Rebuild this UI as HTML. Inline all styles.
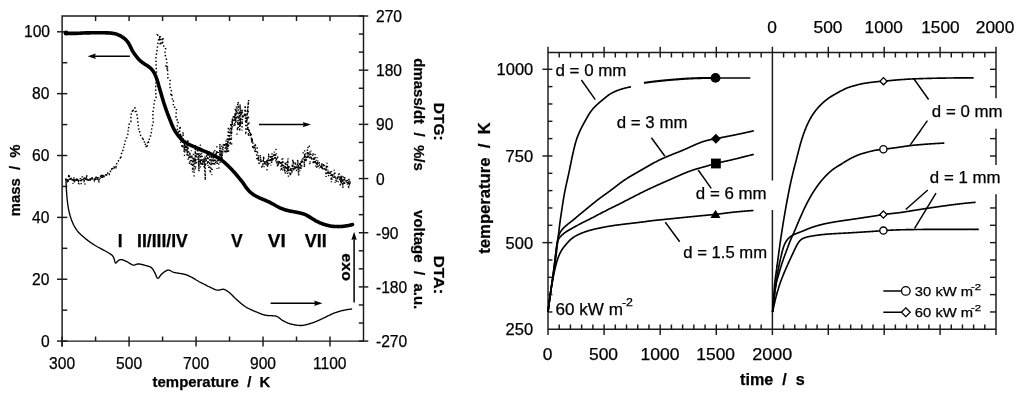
<!DOCTYPE html>
<html><head><meta charset="utf-8"><style>
html,body{margin:0;padding:0;background:#fff;}
svg{display:block;}
text{font-family:"Liberation Sans", Arial, sans-serif;fill:#000;stroke:#000;stroke-width:0.25px;}
</style></head><body>
<svg width="1024" height="397" viewBox="0 0 1024 397">
<rect width="1024" height="397" fill="#fff"/>
<path d="M62.1,16.0 H363.5 V341.1 H62.1 Z" stroke="#1a1a1a" stroke-width="1.45" fill="none"/>
<path d="M62.1,341.1 V346.4" stroke="#1a1a1a" stroke-width="1.45" fill="none"/>
<path d="M57,341.10 H67.3" stroke="#1a1a1a" stroke-width="1.45" fill="none"/>
<path d="M62.1,310.17 H67.3" stroke="#1a1a1a" stroke-width="1.45" fill="none"/>
<path d="M57,279.24 H67.3" stroke="#1a1a1a" stroke-width="1.45" fill="none"/>
<path d="M62.1,248.31 H67.3" stroke="#1a1a1a" stroke-width="1.45" fill="none"/>
<path d="M57,217.38 H67.3" stroke="#1a1a1a" stroke-width="1.45" fill="none"/>
<path d="M62.1,186.45 H67.3" stroke="#1a1a1a" stroke-width="1.45" fill="none"/>
<path d="M57,155.52 H67.3" stroke="#1a1a1a" stroke-width="1.45" fill="none"/>
<path d="M62.1,124.59 H67.3" stroke="#1a1a1a" stroke-width="1.45" fill="none"/>
<path d="M57,93.66 H67.3" stroke="#1a1a1a" stroke-width="1.45" fill="none"/>
<path d="M62.1,62.73 H67.3" stroke="#1a1a1a" stroke-width="1.45" fill="none"/>
<path d="M57,31.80 H67.3" stroke="#1a1a1a" stroke-width="1.45" fill="none"/>
<path d="M358.8,341.10 H368.3" stroke="#1a1a1a" stroke-width="1.45" fill="none"/>
<path d="M358.8,323.04 H363.5" stroke="#1a1a1a" stroke-width="1.45" fill="none"/>
<path d="M358.8,304.98 H363.5" stroke="#1a1a1a" stroke-width="1.45" fill="none"/>
<path d="M358.8,286.92 H368.3" stroke="#1a1a1a" stroke-width="1.45" fill="none"/>
<path d="M358.8,268.86 H363.5" stroke="#1a1a1a" stroke-width="1.45" fill="none"/>
<path d="M358.8,250.79 H363.5" stroke="#1a1a1a" stroke-width="1.45" fill="none"/>
<path d="M358.8,232.73 H368.3" stroke="#1a1a1a" stroke-width="1.45" fill="none"/>
<path d="M358.8,214.67 H363.5" stroke="#1a1a1a" stroke-width="1.45" fill="none"/>
<path d="M358.8,196.61 H363.5" stroke="#1a1a1a" stroke-width="1.45" fill="none"/>
<path d="M358.8,178.55 H368.3" stroke="#1a1a1a" stroke-width="1.45" fill="none"/>
<path d="M358.8,160.49 H363.5" stroke="#1a1a1a" stroke-width="1.45" fill="none"/>
<path d="M358.8,142.43 H363.5" stroke="#1a1a1a" stroke-width="1.45" fill="none"/>
<path d="M358.8,124.37 H368.3" stroke="#1a1a1a" stroke-width="1.45" fill="none"/>
<path d="M358.8,106.31 H363.5" stroke="#1a1a1a" stroke-width="1.45" fill="none"/>
<path d="M358.8,88.24 H363.5" stroke="#1a1a1a" stroke-width="1.45" fill="none"/>
<path d="M358.8,70.18 H368.3" stroke="#1a1a1a" stroke-width="1.45" fill="none"/>
<path d="M358.8,52.12 H363.5" stroke="#1a1a1a" stroke-width="1.45" fill="none"/>
<path d="M358.8,34.06 H363.5" stroke="#1a1a1a" stroke-width="1.45" fill="none"/>
<path d="M358.8,16.00 H368.3" stroke="#1a1a1a" stroke-width="1.45" fill="none"/>
<path d="M95.59,16.0 V21" stroke="#1a1a1a" stroke-width="1.45" fill="none"/>
<path d="M129.08,16.0 V21" stroke="#1a1a1a" stroke-width="1.45" fill="none"/>
<path d="M162.57,16.0 V21" stroke="#1a1a1a" stroke-width="1.45" fill="none"/>
<path d="M196.06,16.0 V21" stroke="#1a1a1a" stroke-width="1.45" fill="none"/>
<path d="M229.54,16.0 V21" stroke="#1a1a1a" stroke-width="1.45" fill="none"/>
<path d="M263.03,16.0 V21" stroke="#1a1a1a" stroke-width="1.45" fill="none"/>
<path d="M296.52,16.0 V21" stroke="#1a1a1a" stroke-width="1.45" fill="none"/>
<path d="M330.01,16.0 V21" stroke="#1a1a1a" stroke-width="1.45" fill="none"/>
<path d="M62.10,336.5 V346.4" stroke="#1a1a1a" stroke-width="1.45" fill="none"/>
<path d="M95.59,336.5 V341.1" stroke="#1a1a1a" stroke-width="1.45" fill="none"/>
<path d="M129.08,336.5 V346.4" stroke="#1a1a1a" stroke-width="1.45" fill="none"/>
<path d="M162.57,336.5 V341.1" stroke="#1a1a1a" stroke-width="1.45" fill="none"/>
<path d="M196.06,336.5 V346.4" stroke="#1a1a1a" stroke-width="1.45" fill="none"/>
<path d="M229.54,336.5 V341.1" stroke="#1a1a1a" stroke-width="1.45" fill="none"/>
<path d="M263.03,336.5 V346.4" stroke="#1a1a1a" stroke-width="1.45" fill="none"/>
<path d="M296.52,336.5 V341.1" stroke="#1a1a1a" stroke-width="1.45" fill="none"/>
<path d="M330.01,336.5 V346.4" stroke="#1a1a1a" stroke-width="1.45" fill="none"/>
<path d="M129.8,56.3 H93.6" stroke="#000" stroke-width="1.5" fill="none"/>
<path d="M87.6,56.3 L95.89999999999999,53.599999999999994 L94.69999999999999,56.3 L95.89999999999999,59.0 Z" fill="#000"/>
<path d="M259.0,124.6 H305.0" stroke="#000" stroke-width="1.5" fill="none"/>
<path d="M311.0,124.6 L302.7,121.89999999999999 L303.9,124.6 L302.7,127.3 Z" fill="#000"/>
<path d="M270.6,303.3 H316.4" stroke="#000" stroke-width="1.5" fill="none"/>
<path d="M322.4,303.3 L314.09999999999997,300.6 L315.29999999999995,303.3 L314.09999999999997,306.0 Z" fill="#000"/>
<path d="M354.1,302.4 V237.8" stroke="#000" stroke-width="1.5" fill="none"/>
<path d="M354.1,231.8 L351.40000000000003,240.10000000000002 L354.1,238.90000000000003 L356.8,240.10000000000002 Z" fill="#000"/>
<path d="M65.50,33.40 L66.06,33.40 L66.57,33.40 L67.06,33.40 L67.54,33.40 L68.02,33.40 L68.51,33.40 L69.01,33.40 L69.50,33.40 L70.00,33.40 L70.50,33.40 L71.00,33.40 L71.50,33.40 L72.00,33.40 L72.50,33.40 L73.00,33.40 L73.50,33.40 L74.00,33.40 L74.50,33.39 L75.00,33.39 L75.50,33.38 L76.00,33.37 L76.50,33.36 L77.00,33.34 L77.50,33.32 L78.00,33.30 L78.50,33.27 L79.00,33.25 L79.50,33.22 L80.00,33.19 L80.49,33.16 L80.99,33.13 L81.49,33.10 L81.99,33.07 L82.49,33.04 L82.99,33.01 L83.49,32.98 L83.99,32.96 L84.49,32.94 L84.99,32.92 L85.49,32.90 L85.99,32.89 L86.49,32.88 L86.99,32.87 L87.49,32.86 L87.99,32.85 L88.49,32.85 L88.99,32.84 L89.49,32.83 L89.99,32.83 L90.49,32.82 L90.99,32.82 L91.49,32.82 L91.99,32.81 L92.49,32.81 L92.99,32.81 L93.49,32.80 L93.99,32.80 L94.49,32.80 L94.99,32.80 L95.49,32.80 L95.99,32.80 L96.49,32.80 L96.99,32.80 L97.49,32.80 L97.99,32.80 L98.49,32.80 L98.99,32.80 L99.49,32.80 L99.99,32.80 L100.49,32.80 L100.99,32.80 L101.49,32.80 L101.99,32.80 L102.49,32.80 L102.99,32.80 L103.49,32.80 L103.99,32.80 L104.49,32.81 L104.99,32.81 L105.49,32.82 L105.99,32.83 L106.49,32.84 L106.99,32.86 L107.49,32.87 L107.99,32.90 L108.49,32.92 L108.98,32.95 L109.48,32.98 L109.98,33.02 L110.48,33.06 L110.98,33.11 L111.48,33.16 L111.98,33.22 L112.47,33.29 L112.97,33.36 L113.46,33.44 L113.95,33.53 L114.44,33.63 L114.92,33.74 L115.41,33.86 L115.88,33.99 L116.36,34.14 L116.83,34.30 L117.31,34.47 L117.77,34.65 L118.24,34.84 L118.70,35.05 L119.15,35.26 L119.60,35.48 L120.05,35.70 L120.49,35.94 L120.93,36.18 L121.36,36.42 L121.79,36.68 L122.22,36.95 L122.64,37.22 L123.05,37.50 L123.46,37.80 L123.86,38.10 L124.26,38.41 L124.64,38.72 L125.02,39.05 L125.39,39.38 L125.75,39.73 L126.10,40.08 L126.44,40.44 L126.77,40.82 L127.09,41.20 L127.40,41.59 L127.70,41.99 L127.99,42.40 L128.27,42.81 L128.54,43.23 L128.80,43.65 L129.05,44.09 L129.30,44.52 L129.54,44.96 L129.77,45.41 L129.99,45.85 L130.22,46.30 L130.43,46.76 L130.64,47.21 L130.86,47.66 L131.07,48.12 L131.28,48.57 L131.50,49.02 L131.72,49.46 L131.95,49.91 L132.19,50.34 L132.43,50.78 L132.69,51.21 L132.95,51.63 L133.21,52.05 L133.49,52.47 L133.77,52.89 L134.05,53.30 L134.34,53.71 L134.63,54.12 L134.93,54.52 L135.22,54.93 L135.52,55.33 L135.83,55.73 L136.13,56.12 L136.44,56.52 L136.75,56.91 L137.06,57.31 L137.38,57.69 L137.70,58.08 L138.03,58.46 L138.36,58.84 L138.69,59.21 L139.03,59.57 L139.38,59.93 L139.73,60.28 L140.10,60.62 L140.46,60.95 L140.84,61.28 L141.23,61.59 L141.62,61.90 L142.01,62.20 L142.42,62.50 L142.82,62.79 L143.23,63.08 L143.65,63.37 L144.06,63.65 L144.48,63.92 L144.90,64.19 L145.32,64.46 L145.75,64.73 L146.17,65.00 L146.59,65.27 L147.01,65.54 L147.43,65.82 L147.84,66.10 L148.25,66.39 L148.66,66.68 L149.06,66.98 L149.46,67.29 L149.85,67.61 L150.23,67.93 L150.60,68.27 L150.97,68.61 L151.32,68.95 L151.67,69.31 L151.99,69.68 L152.31,70.06 L152.62,70.44 L152.91,70.84 L153.19,71.25 L153.47,71.67 L153.73,72.09 L153.99,72.53 L154.23,72.97 L154.47,73.41 L154.70,73.85 L154.93,74.30 L155.14,74.76 L155.35,75.21 L155.54,75.67 L155.74,76.13 L155.92,76.59 L156.10,77.06 L156.28,77.53 L156.45,78.00 L156.61,78.47 L156.77,78.95 L156.93,79.42 L157.09,79.90 L157.24,80.38 L157.39,80.85 L157.54,81.33 L157.69,81.81 L157.83,82.29 L157.97,82.77 L158.11,83.25 L158.24,83.73 L158.38,84.21 L158.51,84.69 L158.65,85.17 L158.78,85.66 L158.92,86.14 L159.05,86.62 L159.19,87.10 L159.33,87.58 L159.47,88.06 L159.61,88.54 L159.75,89.02 L159.89,89.50 L160.03,89.98 L160.17,90.46 L160.31,90.94 L160.45,91.42 L160.59,91.90 L160.73,92.38 L160.87,92.86 L161.01,93.34 L161.15,93.82 L161.29,94.30 L161.43,94.78 L161.57,95.26 L161.71,95.74 L161.85,96.22 L161.99,96.70 L162.13,97.18 L162.27,97.66 L162.41,98.14 L162.55,98.62 L162.69,99.10 L162.83,99.58 L162.97,100.06 L163.12,100.54 L163.27,101.02 L163.42,101.49 L163.57,101.97 L163.72,102.45 L163.87,102.92 L164.02,103.40 L164.18,103.87 L164.33,104.35 L164.49,104.82 L164.65,105.30 L164.81,105.77 L164.97,106.25 L165.13,106.72 L165.29,107.19 L165.45,107.67 L165.62,108.14 L165.78,108.61 L165.95,109.08 L166.11,109.55 L166.28,110.03 L166.45,110.50 L166.62,110.97 L166.79,111.44 L166.96,111.91 L167.13,112.38 L167.30,112.85 L167.48,113.31 L167.65,113.78 L167.83,114.25 L168.00,114.72 L168.18,115.19 L168.36,115.65 L168.54,116.12 L168.72,116.59 L168.90,117.05 L169.08,117.52 L169.26,117.98 L169.45,118.45 L169.63,118.92 L169.81,119.38 L170.00,119.85 L170.18,120.31 L170.36,120.78 L170.55,121.25 L170.73,121.71 L170.91,122.18 L171.10,122.65 L171.28,123.12 L171.46,123.58 L171.65,124.05 L171.84,124.51 L172.03,124.98 L172.22,125.44 L172.42,125.90 L172.62,126.36 L172.82,126.81 L173.03,127.27 L173.24,127.72 L173.46,128.16 L173.68,128.60 L173.91,129.05 L174.15,129.48 L174.39,129.92 L174.63,130.35 L174.89,130.78 L175.14,131.21 L175.41,131.64 L175.68,132.06 L175.95,132.49 L176.23,132.90 L176.52,133.32 L176.81,133.73 L177.10,134.14 L177.40,134.54 L177.70,134.94 L178.00,135.34 L178.31,135.73 L178.62,136.12 L178.94,136.51 L179.26,136.89 L179.59,137.26 L179.92,137.64 L180.26,138.01 L180.60,138.38 L180.95,138.74 L181.31,139.09 L181.67,139.45 L182.03,139.79 L182.40,140.13 L182.78,140.46 L183.16,140.78 L183.54,141.09 L183.94,141.39 L184.33,141.69 L184.74,141.98 L185.15,142.26 L185.56,142.53 L185.99,142.80 L186.41,143.06 L186.84,143.31 L187.28,143.56 L187.72,143.81 L188.16,144.04 L188.61,144.28 L189.05,144.51 L189.50,144.73 L189.95,144.95 L190.40,145.16 L190.86,145.37 L191.32,145.57 L191.77,145.76 L192.24,145.96 L192.70,146.15 L193.16,146.34 L193.63,146.52 L194.09,146.71 L194.56,146.90 L195.02,147.08 L195.48,147.28 L195.94,147.47 L196.40,147.67 L196.86,147.87 L197.32,148.07 L197.77,148.28 L198.23,148.49 L198.68,148.70 L199.14,148.91 L199.59,149.12 L200.04,149.33 L200.50,149.54 L200.95,149.75 L201.41,149.96 L201.86,150.16 L202.32,150.36 L202.78,150.55 L203.24,150.75 L203.70,150.94 L204.17,151.12 L204.63,151.31 L205.10,151.49 L205.57,151.67 L206.03,151.85 L206.50,152.03 L206.97,152.21 L207.43,152.40 L207.89,152.59 L208.35,152.78 L208.81,152.97 L209.27,153.17 L209.73,153.38 L210.18,153.59 L210.63,153.80 L211.08,154.02 L211.53,154.24 L211.98,154.46 L212.42,154.69 L212.87,154.92 L213.31,155.15 L213.76,155.38 L214.20,155.61 L214.64,155.84 L215.09,156.08 L215.53,156.31 L215.97,156.55 L216.41,156.79 L216.84,157.03 L217.28,157.28 L217.71,157.54 L218.13,157.79 L218.56,158.06 L218.98,158.33 L219.40,158.60 L219.81,158.88 L220.22,159.16 L220.63,159.45 L221.04,159.74 L221.44,160.04 L221.84,160.34 L222.24,160.65 L222.63,160.95 L223.02,161.27 L223.40,161.58 L223.79,161.91 L224.17,162.23 L224.54,162.56 L224.92,162.89 L225.29,163.23 L225.66,163.56 L226.03,163.90 L226.39,164.24 L226.76,164.58 L227.12,164.93 L227.48,165.27 L227.84,165.62 L228.20,165.97 L228.56,166.32 L228.92,166.67 L229.27,167.02 L229.62,167.38 L229.97,167.73 L230.32,168.09 L230.67,168.45 L231.02,168.81 L231.37,169.17 L231.71,169.53 L232.06,169.89 L232.40,170.26 L232.74,170.62 L233.08,170.99 L233.43,171.35 L233.76,171.72 L234.10,172.09 L234.44,172.46 L234.77,172.83 L235.10,173.21 L235.43,173.58 L235.76,173.96 L236.08,174.34 L236.41,174.72 L236.73,175.11 L237.04,175.49 L237.36,175.88 L237.68,176.27 L237.99,176.65 L238.31,177.04 L238.62,177.43 L238.94,177.82 L239.26,178.21 L239.57,178.59 L239.89,178.98 L240.21,179.36 L240.54,179.74 L240.86,180.13 L241.17,180.51 L241.49,180.90 L241.80,181.29 L242.11,181.68 L242.41,182.08 L242.71,182.48 L243.00,182.89 L243.29,183.30 L243.58,183.71 L243.86,184.12 L244.13,184.54 L244.41,184.96 L244.69,185.38 L244.96,185.79 L245.24,186.21 L245.53,186.62 L245.82,187.03 L246.11,187.43 L246.41,187.83 L246.71,188.23 L247.02,188.62 L247.34,189.01 L247.66,189.39 L247.99,189.77 L248.32,190.14 L248.66,190.51 L249.00,190.88 L249.35,191.24 L249.71,191.59 L250.07,191.93 L250.43,192.27 L250.81,192.60 L251.19,192.92 L251.57,193.24 L251.96,193.54 L252.36,193.84 L252.77,194.13 L253.18,194.41 L253.60,194.69 L254.02,194.96 L254.44,195.23 L254.87,195.49 L255.30,195.74 L255.74,195.99 L256.17,196.24 L256.61,196.48 L257.05,196.71 L257.50,196.94 L257.95,197.16 L258.39,197.38 L258.85,197.60 L259.30,197.81 L259.75,198.02 L260.21,198.23 L260.67,198.43 L261.13,198.62 L261.59,198.82 L262.05,199.01 L262.51,199.20 L262.98,199.39 L263.44,199.57 L263.90,199.76 L264.37,199.95 L264.83,200.14 L265.29,200.34 L265.75,200.53 L266.21,200.73 L266.67,200.93 L267.13,201.13 L267.58,201.33 L268.04,201.54 L268.49,201.75 L268.94,201.96 L269.39,202.18 L269.84,202.40 L270.29,202.63 L270.73,202.85 L271.18,203.08 L271.62,203.31 L272.06,203.55 L272.51,203.78 L272.94,204.02 L273.38,204.27 L273.82,204.52 L274.25,204.77 L274.69,205.02 L275.12,205.27 L275.56,205.52 L275.99,205.78 L276.43,206.03 L276.86,206.28 L277.30,206.52 L277.74,206.76 L278.18,206.99 L278.62,207.22 L279.06,207.44 L279.51,207.65 L279.96,207.86 L280.42,208.06 L280.88,208.25 L281.34,208.44 L281.80,208.62 L282.27,208.80 L282.74,208.98 L283.21,209.15 L283.68,209.31 L284.16,209.47 L284.63,209.63 L285.11,209.79 L285.59,209.93 L286.07,210.08 L286.55,210.22 L287.03,210.35 L287.52,210.48 L288.00,210.60 L288.49,210.72 L288.97,210.83 L289.46,210.93 L289.95,211.03 L290.44,211.13 L290.93,211.23 L291.42,211.32 L291.91,211.40 L292.40,211.49 L292.90,211.58 L293.39,211.66 L293.88,211.75 L294.38,211.84 L294.87,211.93 L295.36,212.03 L295.85,212.12 L296.35,212.22 L296.84,212.32 L297.33,212.42 L297.82,212.52 L298.31,212.63 L298.80,212.73 L299.30,212.84 L299.79,212.95 L300.28,213.07 L300.77,213.18 L301.25,213.30 L301.74,213.43 L302.22,213.56 L302.69,213.70 L303.17,213.84 L303.64,213.99 L304.10,214.15 L304.57,214.33 L305.02,214.51 L305.48,214.71 L305.93,214.91 L306.38,215.13 L306.82,215.36 L307.26,215.60 L307.70,215.85 L308.13,216.10 L308.57,216.35 L309.00,216.61 L309.43,216.87 L309.86,217.13 L310.29,217.39 L310.72,217.66 L311.14,217.93 L311.56,218.19 L311.98,218.47 L312.40,218.74 L312.82,219.01 L313.24,219.28 L313.67,219.55 L314.09,219.81 L314.52,220.07 L314.95,220.32 L315.38,220.57 L315.82,220.81 L316.26,221.05 L316.70,221.29 L317.14,221.52 L317.59,221.74 L318.04,221.96 L318.49,222.18 L318.94,222.39 L319.40,222.60 L319.86,222.80 L320.32,222.99 L320.78,223.18 L321.24,223.37 L321.71,223.54 L322.18,223.72 L322.65,223.89 L323.12,224.05 L323.59,224.21 L324.07,224.37 L324.55,224.52 L325.03,224.66 L325.51,224.80 L325.99,224.94 L326.47,225.07 L326.96,225.20 L327.44,225.32 L327.93,225.44 L328.41,225.56 L328.90,225.68 L329.39,225.79 L329.88,225.89 L330.37,225.99 L330.86,226.08 L331.36,226.16 L331.85,226.23 L332.35,226.29 L332.84,226.35 L333.34,226.39 L333.83,226.42 L334.33,226.45 L334.83,226.48 L335.33,226.50 L335.83,226.52 L336.33,226.54 L336.83,226.55 L337.33,226.56 L337.83,226.57 L338.33,226.58 L338.83,226.58 L339.33,226.57 L339.83,226.56 L340.33,226.54 L340.83,226.52 L341.33,226.48 L341.83,226.44 L342.33,226.40 L342.82,226.35 L343.32,226.29 L343.82,226.24 L344.31,226.18 L344.81,226.11 L345.30,226.05 L345.80,225.98 L346.29,225.90 L346.78,225.82 L347.28,225.74 L347.77,225.65 L348.26,225.56 L348.75,225.46 L349.23,225.36 L349.71,225.26 L350.19,225.16 L350.66,225.05 L351.12,224.95 L351.60,224.83 L352.10,224.70 L352.50,224.60" stroke="#000" stroke-width="3.6" fill="none" stroke-linejoin="round" stroke-linecap="round"/>
<circle cx="66" cy="33" r="2.4" fill="#000"/>
<path d="M66.00,178.50 L66.01,179.04 L66.02,179.52 L66.03,180.01 L66.04,180.50 L66.05,181.00 L66.06,181.50 L66.08,182.00 L66.09,182.50 L66.11,183.00 L66.12,183.50 L66.14,184.00 L66.16,184.50 L66.18,185.00 L66.20,185.50 L66.22,186.00 L66.25,186.50 L66.27,187.00 L66.29,187.50 L66.32,188.00 L66.35,188.50 L66.37,188.99 L66.40,189.49 L66.43,189.99 L66.46,190.49 L66.49,190.99 L66.53,191.49 L66.56,191.99 L66.59,192.49 L66.63,192.99 L66.66,193.49 L66.70,193.99 L66.74,194.48 L66.77,194.98 L66.81,195.48 L66.85,195.98 L66.89,196.48 L66.93,196.97 L66.98,197.47 L67.02,197.97 L67.07,198.47 L67.12,198.97 L67.17,199.46 L67.22,199.96 L67.28,200.46 L67.34,200.96 L67.39,201.46 L67.46,201.95 L67.52,202.45 L67.58,202.95 L67.65,203.44 L67.72,203.94 L67.79,204.43 L67.86,204.93 L67.94,205.42 L68.01,205.92 L68.09,206.41 L68.17,206.90 L68.25,207.39 L68.34,207.88 L68.42,208.38 L68.51,208.87 L68.61,209.36 L68.70,209.85 L68.80,210.34 L68.91,210.83 L69.02,211.32 L69.13,211.82 L69.24,212.31 L69.36,212.79 L69.48,213.28 L69.61,213.77 L69.74,214.26 L69.87,214.74 L70.00,215.23 L70.14,215.71 L70.28,216.19 L70.42,216.66 L70.57,217.14 L70.72,217.61 L70.87,218.09 L71.02,218.56 L71.18,219.02 L71.35,219.49 L71.52,219.96 L71.69,220.43 L71.87,220.90 L72.06,221.37 L72.25,221.83 L72.45,222.30 L72.65,222.77 L72.86,223.23 L73.07,223.69 L73.29,224.15 L73.52,224.61 L73.74,225.07 L73.98,225.52 L74.21,225.97 L74.45,226.41 L74.70,226.85 L74.95,227.29 L75.20,227.71 L75.46,228.14 L75.72,228.56 L75.98,228.97 L76.25,229.38 L76.53,229.78 L76.81,230.17 L77.10,230.56 L77.39,230.94 L77.70,231.32 L78.02,231.70 L78.35,232.07 L78.68,232.44 L79.02,232.81 L79.37,233.17 L79.73,233.53 L80.09,233.88 L80.46,234.23 L80.83,234.58 L81.20,234.93 L81.58,235.27 L81.96,235.61 L82.34,235.94 L82.73,236.28 L83.11,236.61 L83.50,236.94 L83.88,237.26 L84.27,237.58 L84.65,237.91 L85.03,238.22 L85.42,238.54 L85.80,238.86 L86.19,239.17 L86.58,239.48 L86.97,239.79 L87.36,240.09 L87.76,240.40 L88.16,240.70 L88.56,241.00 L88.96,241.30 L89.37,241.60 L89.78,241.89 L90.19,242.18 L90.60,242.47 L91.01,242.76 L91.42,243.04 L91.84,243.32 L92.25,243.61 L92.67,243.88 L93.09,244.16 L93.51,244.43 L93.93,244.70 L94.35,244.97 L94.78,245.24 L95.20,245.50 L95.63,245.77 L96.05,246.02 L96.48,246.28 L96.91,246.53 L97.35,246.77 L97.79,247.02 L98.23,247.25 L98.67,247.49 L99.11,247.73 L99.55,247.96 L99.99,248.20 L100.44,248.43 L100.88,248.66 L101.32,248.89 L101.77,249.12 L102.21,249.35 L102.66,249.58 L103.10,249.81 L103.54,250.04 L103.98,250.28 L104.42,250.52 L104.86,250.76 L105.30,251.00 L105.74,251.24 L106.17,251.49 L106.61,251.74 L107.04,251.99 L107.47,252.24 L107.90,252.49 L108.33,252.75 L108.76,253.01 L109.18,253.28 L109.61,253.55 L110.03,253.82 L110.46,254.09 L110.89,254.37 L111.31,254.65 L111.72,254.95 L112.09,255.27 L112.43,255.61 L112.73,255.97 L113.00,256.37 L113.24,256.80 L113.46,257.25 L113.67,257.71 L113.87,258.19 L114.06,258.68 L114.24,259.19 L114.41,259.73 L114.57,260.30 L114.72,260.88 L114.87,261.46 L115.02,261.99 L115.19,262.45 L115.36,262.80 L115.56,263.01 L115.79,263.06 L116.05,262.94 L116.34,262.68 L116.67,262.32 L117.02,261.90 L117.39,261.48 L117.77,261.09 L118.18,260.74 L118.60,260.44 L119.04,260.17 L119.49,259.94 L119.96,259.76 L120.43,259.64 L120.89,259.59 L121.36,259.60 L121.84,259.66 L122.31,259.77 L122.79,259.90 L123.26,260.07 L123.74,260.25 L124.22,260.45 L124.70,260.65 L125.17,260.86 L125.64,261.07 L126.11,261.28 L126.57,261.49 L127.03,261.71 L127.48,261.96 L127.93,262.21 L128.38,262.49 L128.82,262.77 L129.26,263.07 L129.71,263.36 L130.15,263.65 L130.59,263.92 L131.03,264.18 L131.47,264.43 L131.92,264.64 L132.36,264.82 L132.81,264.96 L133.27,265.06 L133.72,265.11 L134.18,265.09 L134.65,265.01 L135.11,264.86 L135.59,264.68 L136.06,264.47 L136.53,264.28 L137.01,264.12 L137.49,264.01 L137.97,263.96 L138.45,263.95 L138.94,263.98 L139.42,264.03 L139.91,264.09 L140.40,264.17 L140.89,264.27 L141.39,264.37 L141.88,264.49 L142.37,264.61 L142.86,264.74 L143.36,264.87 L143.85,265.01 L144.34,265.15 L144.83,265.29 L145.31,265.43 L145.80,265.57 L146.29,265.71 L146.78,265.84 L147.27,265.98 L147.77,266.12 L148.27,266.26 L148.77,266.41 L149.26,266.56 L149.73,266.73 L150.17,266.92 L150.59,267.12 L150.98,267.35 L151.34,267.62 L151.69,267.92 L152.01,268.25 L152.32,268.62 L152.62,269.02 L152.90,269.45 L153.18,269.89 L153.45,270.35 L153.72,270.81 L153.98,271.27 L154.24,271.73 L154.50,272.19 L154.75,272.65 L155.01,273.13 L155.25,273.63 L155.49,274.17 L155.72,274.72 L155.95,275.29 L156.18,275.85 L156.41,276.38 L156.63,276.88 L156.87,277.32 L157.11,277.70 L157.35,277.98 L157.61,278.17 L157.88,278.24 L158.16,278.20 L158.45,278.04 L158.74,277.78 L159.05,277.44 L159.37,277.04 L159.69,276.59 L160.02,276.11 L160.37,275.63 L160.71,275.16 L161.07,274.72 L161.43,274.32 L161.80,273.95 L162.18,273.61 L162.58,273.28 L162.98,272.94 L163.39,272.61 L163.82,272.28 L164.25,271.95 L164.68,271.64 L165.13,271.34 L165.57,271.06 L166.02,270.81 L166.48,270.59 L166.93,270.40 L167.38,270.25 L167.83,270.14 L168.28,270.09 L168.73,270.10 L169.17,270.17 L169.62,270.31 L170.06,270.51 L170.51,270.74 L170.96,271.01 L171.41,271.27 L171.87,271.53 L172.33,271.77 L172.79,271.97 L173.26,272.14 L173.73,272.29 L174.21,272.42 L174.69,272.54 L175.17,272.64 L175.66,272.75 L176.15,272.84 L176.64,272.93 L177.14,273.02 L177.63,273.10 L178.13,273.19 L178.63,273.26 L179.13,273.34 L179.63,273.42 L180.14,273.50 L180.64,273.58 L181.13,273.66 L181.63,273.74 L182.13,273.83 L182.62,273.92 L183.11,274.01 L183.60,274.11 L184.09,274.22 L184.57,274.34 L185.05,274.46 L185.52,274.59 L185.99,274.74 L186.46,274.90 L186.93,275.07 L187.39,275.25 L187.85,275.45 L188.31,275.65 L188.76,275.86 L189.22,276.08 L189.67,276.30 L190.12,276.53 L190.57,276.76 L191.02,276.99 L191.46,277.22 L191.90,277.45 L192.35,277.69 L192.78,277.93 L193.22,278.17 L193.65,278.42 L194.09,278.67 L194.51,278.93 L194.94,279.19 L195.37,279.45 L195.79,279.72 L196.22,279.98 L196.65,280.25 L197.07,280.51 L197.50,280.77 L197.93,281.03 L198.36,281.28 L198.79,281.53 L199.23,281.78 L199.67,282.01 L200.11,282.24 L200.56,282.47 L201.01,282.68 L201.46,282.90 L201.91,283.11 L202.36,283.33 L202.81,283.56 L203.26,283.78 L203.70,284.01 L204.15,284.24 L204.59,284.47 L205.03,284.70 L205.48,284.93 L205.92,285.17 L206.37,285.40 L206.81,285.63 L207.26,285.85 L207.70,286.08 L208.15,286.30 L208.60,286.51 L209.05,286.73 L209.51,286.93 L209.96,287.14 L210.42,287.35 L210.88,287.56 L211.34,287.78 L211.80,288.00 L212.26,288.23 L212.73,288.46 L213.19,288.69 L213.66,288.91 L214.13,289.12 L214.60,289.32 L215.07,289.51 L215.54,289.68 L216.02,289.82 L216.49,289.95 L216.97,290.04 L217.44,290.11 L217.92,290.14 L218.41,290.14 L218.90,290.10 L219.39,290.02 L219.88,289.91 L220.38,289.79 L220.87,289.66 L221.37,289.53 L221.86,289.42 L222.34,289.33 L222.82,289.28 L223.30,289.28 L223.77,289.33 L224.23,289.43 L224.69,289.58 L225.15,289.78 L225.61,290.02 L226.05,290.28 L226.50,290.56 L226.93,290.85 L227.36,291.15 L227.78,291.44 L228.20,291.73 L228.60,292.02 L229.00,292.31 L229.38,292.61 L229.77,292.92 L230.14,293.24 L230.51,293.57 L230.88,293.91 L231.24,294.25 L231.60,294.60 L231.95,294.96 L232.31,295.32 L232.66,295.69 L233.01,296.05 L233.36,296.42 L233.71,296.78 L234.07,297.15 L234.42,297.51 L234.78,297.87 L235.14,298.22 L235.50,298.57 L235.87,298.91 L236.24,299.24 L236.62,299.57 L237.00,299.90 L237.37,300.23 L237.75,300.57 L238.13,300.90 L238.51,301.23 L238.89,301.56 L239.27,301.89 L239.65,302.22 L240.04,302.55 L240.42,302.88 L240.81,303.20 L241.19,303.53 L241.58,303.85 L241.97,304.16 L242.37,304.48 L242.76,304.78 L243.16,305.09 L243.56,305.39 L243.96,305.68 L244.37,305.97 L244.77,306.25 L245.18,306.53 L245.60,306.79 L246.01,307.06 L246.44,307.31 L246.86,307.56 L247.29,307.80 L247.72,308.04 L248.16,308.28 L248.60,308.51 L249.04,308.74 L249.49,308.96 L249.94,309.18 L250.39,309.40 L250.85,309.61 L251.30,309.82 L251.76,310.03 L252.22,310.23 L252.69,310.43 L253.15,310.63 L253.61,310.83 L254.08,311.02 L254.54,311.21 L255.01,311.40 L255.47,311.59 L255.94,311.78 L256.40,311.96 L256.87,312.15 L257.33,312.34 L257.80,312.53 L258.26,312.73 L258.73,312.92 L259.20,313.12 L259.67,313.32 L260.13,313.51 L260.61,313.70 L261.08,313.89 L261.55,314.07 L262.02,314.25 L262.50,314.42 L262.97,314.58 L263.45,314.73 L263.93,314.87 L264.41,314.99 L264.89,315.11 L265.37,315.21 L265.86,315.29 L266.34,315.36 L266.83,315.42 L267.33,315.47 L267.83,315.51 L268.33,315.55 L268.84,315.58 L269.35,315.61 L269.86,315.63 L270.37,315.66 L270.88,315.68 L271.39,315.70 L271.90,315.72 L272.41,315.75 L272.91,315.77 L273.41,315.81 L273.90,315.84 L274.38,315.88 L274.86,315.93 L275.32,315.99 L275.78,316.08 L276.23,316.19 L276.67,316.34 L277.11,316.53 L277.53,316.76 L277.96,317.01 L278.37,317.29 L278.79,317.59 L279.20,317.91 L279.61,318.24 L280.03,318.56 L280.44,318.89 L280.85,319.22 L281.27,319.53 L281.70,319.82 L282.13,320.10 L282.56,320.36 L283.00,320.60 L283.44,320.84 L283.88,321.08 L284.33,321.32 L284.78,321.55 L285.23,321.79 L285.68,322.02 L286.13,322.25 L286.59,322.47 L287.04,322.68 L287.50,322.89 L287.97,323.08 L288.43,323.27 L288.90,323.44 L289.36,323.60 L289.83,323.75 L290.31,323.89 L290.78,324.01 L291.26,324.12 L291.74,324.23 L292.22,324.34 L292.71,324.45 L293.20,324.55 L293.69,324.65 L294.19,324.75 L294.69,324.84 L295.18,324.93 L295.68,325.02 L296.18,325.10 L296.68,325.17 L297.18,325.24 L297.69,325.30 L298.19,325.35 L298.69,325.40 L299.18,325.43 L299.68,325.46 L300.18,325.48 L300.67,325.48 L301.17,325.48 L301.66,325.46 L302.15,325.42 L302.65,325.37 L303.14,325.31 L303.63,325.23 L304.13,325.15 L304.62,325.05 L305.11,324.95 L305.61,324.84 L306.10,324.72 L306.59,324.59 L307.08,324.46 L307.57,324.32 L308.05,324.19 L308.54,324.05 L309.02,323.91 L309.51,323.77 L309.99,323.63 L310.47,323.49 L310.94,323.35 L311.42,323.21 L311.89,323.07 L312.36,322.91 L312.83,322.75 L313.30,322.59 L313.77,322.41 L314.23,322.24 L314.70,322.05 L315.16,321.86 L315.62,321.67 L316.09,321.48 L316.55,321.28 L317.01,321.08 L317.47,320.87 L317.92,320.66 L318.38,320.46 L318.84,320.25 L319.30,320.04 L319.76,319.83 L320.21,319.62 L320.67,319.41 L321.13,319.20 L321.58,318.99 L322.04,318.78 L322.50,318.58 L322.95,318.37 L323.41,318.17 L323.87,317.96 L324.32,317.75 L324.77,317.53 L325.23,317.32 L325.68,317.10 L326.13,316.87 L326.58,316.65 L327.03,316.42 L327.47,316.20 L327.92,315.97 L328.37,315.75 L328.82,315.52 L329.27,315.30 L329.72,315.08 L330.17,314.86 L330.62,314.64 L331.08,314.43 L331.53,314.22 L331.98,314.01 L332.44,313.81 L332.90,313.62 L333.36,313.43 L333.82,313.24 L334.28,313.07 L334.75,312.90 L335.22,312.73 L335.69,312.57 L336.16,312.41 L336.63,312.25 L337.10,312.10 L337.58,311.94 L338.06,311.79 L338.54,311.65 L339.02,311.50 L339.50,311.36 L339.98,311.22 L340.47,311.09 L340.95,310.95 L341.44,310.83 L341.92,310.70 L342.41,310.58 L342.90,310.47 L343.39,310.36 L343.88,310.25 L344.36,310.15 L344.85,310.05 L345.34,309.96 L345.83,309.87 L346.32,309.78 L346.81,309.70 L347.31,309.62 L347.80,309.54 L348.29,309.47 L348.79,309.39 L349.29,309.33 L349.78,309.26 L350.28,309.20 L350.76,309.14 L351.24,309.09 L351.72,309.04 L352.10,309.00" stroke="#000" stroke-width="1.35" fill="none" stroke-linejoin="round"/>
<path d="M65.70,180.00 L66.50,177.94 L67.18,180.14 L67.67,179.04 L67.70,180.40 L68.26,182.46 L68.72,174.29 L69.63,179.45 L69.39,180.54 L70.87,179.22 L70.85,176.90 L71.26,179.23 L72.10,180.29 L72.81,180.17 L73.10,178.24 L73.82,178.31 L74.04,179.80 L74.87,178.43 L75.37,180.24 L75.47,181.22 L76.43,180.84 L76.55,177.92 L77.03,181.42 L77.22,179.25 L77.91,179.50 L78.73,181.52 L78.61,179.96 L79.69,179.75 L80.10,179.66 L80.58,179.61 L80.34,180.05 L81.47,181.73 L82.19,178.17 L82.27,176.38 L83.03,180.08 L82.79,178.99 L84.20,179.57 L84.30,181.05 L85.26,179.88 L84.95,178.77 L86.21,179.89 L86.43,174.96 L87.24,177.13 L87.22,181.19 L87.81,179.94 L89.17,181.75 L88.75,179.13 L89.29,178.61 L89.92,177.84 L90.19,179.19 L91.36,178.17 L92.02,179.29 L91.79,176.50 L91.98,177.72 L93.35,178.43 L93.83,178.74 L94.25,180.15 L94.85,178.11 L94.74,178.68 L95.45,181.21 L95.58,178.80 L96.07,179.78 L97.29,178.74 L97.30,179.30 L98.68,179.56 L98.52,179.09 L98.81,179.93 L99.74,177.04 L100.54,178.99 L100.65,175.03 L100.63,176.78 L101.61,174.04 L102.41,178.06 L102.35,175.58 L102.77,174.82 L103.80,176.86 L104.04,175.39 L104.17,176.53 L104.89,176.09 L105.27,176.57 L106.09,173.18 L106.53,174.69 L107.35,175.72 L107.71,172.23 L107.53,172.82 L108.62,173.44 L109.27,174.12 L109.64,172.45 L110.31,172.52 L110.34,172.16 L110.71,169.66 L111.78,169.69 L111.68,169.64 L111.85,167.10 L113.31,169.13 L113.28,168.38 L113.91,168.00 L114.08,167.21 L114.60,167.64 L115.15,166.23 L115.89,167.25 L116.61,164.28 L116.31,164.49 L117.73,161.88 L117.65,161.58 L118.18,161.21 L119.20,159.36 L119.48,159.36 L119.54,158.74 L121.05,157.00 L120.74,158.16 L121.57,153.41 L122.06,151.93 L122.92,151.68 L122.86,149.64 L123.80,146.67 L123.78,147.07 L124.84,143.34 L124.77,142.48 L125.39,140.71 L126.57,139.11 L126.60,137.68 L127.03,135.95 L128.17,133.66 L128.11,129.06 L128.26,129.21 L129.22,125.63 L129.15,124.45 L130.34,121.80 L130.86,121.69 L130.83,118.18 L131.31,113.94 L132.05,113.89 L132.50,109.71 L132.71,110.98 L133.67,109.69 L133.39,108.84 L134.37,108.06 L134.88,107.87 L135.42,112.10 L136.09,110.24 L136.13,111.82 L137.18,115.64 L137.45,117.74 L137.80,121.17 L138.09,123.36 L138.65,129.01 L139.61,129.01 L139.71,132.04 L140.52,135.20 L141.32,136.68 L141.81,137.03 L142.47,138.14 L142.41,139.02 L142.67,137.89 L143.81,141.16 L144.09,140.77 L144.84,143.60 L145.00,144.86 L145.86,143.72 L146.25,148.11 L146.71,145.97 L147.15,147.62 L147.62,142.40 L148.07,144.09 L148.57,141.78 L149.30,141.73 L149.35,138.91 L150.52,137.24 L150.47,134.86 L151.33,132.54 L151.47,130.32 L151.91,127.48 L153.28,122.35 L152.88,116.73 L152.97,111.68 L153.69,107.86 L154.36,101.39 L156.01,97.78 L155.60,88.56 L156.47,72.33 L155.82,58.29 L157.30,48.22 L158.19,40.88 L160.16,35.62 L157.67,34.99 L159.72,38.17 L159.86,39.35 L158.79,40.41 L160.48,36.18 L160.69,43.23 L158.78,44.27 L162.70,43.15 L163.13,37.85 L162.49,37.47 L161.96,44.18 L165.70,47.86 L164.80,54.33 L166.16,57.73 L167.10,64.17 L165.41,66.56 L167.41,69.38 L166.73,65.00 L167.43,66.21 L167.91,77.83 L168.50,78.37 L170.23,80.68 L169.64,86.24 L169.83,86.21 L170.20,87.93 L171.37,90.15 L170.54,96.18 L171.46,93.23 L172.44,99.39 L172.40,98.74 L173.37,100.59 L173.36,106.80 L176.60,107.96 L176.39,109.95 L175.97,116.32 L175.94,118.51 L178.76,121.83 L177.33,123.37 L177.41,130.48 L178.31,132.22 L178.81,131.72 L180.42,126.14 L179.48,132.45 L182.10,137.65 L179.67,134.28 L181.61,141.92 L180.68,138.17 L183.38,132.33 L182.27,147.71 L182.96,143.47 L184.04,142.36 L184.65,147.88 L183.99,151.91 L184.86,140.21 L184.94,150.23 L186.05,143.06 L186.46,148.78 L186.86,143.55 L187.23,155.51 L187.85,139.63 L188.20,151.09 L189.21,158.10 L190.11,154.54 L189.23,151.99 L190.45,156.30 L190.83,163.08 L191.70,165.93 L191.62,155.92 L192.44,157.24 L192.58,172.26 L193.78,161.33 L194.04,158.27 L194.44,160.06 L195.15,160.59 L195.40,145.37 L195.38,163.65 L196.74,153.22 L197.12,157.48 L197.44,146.94 L198.39,157.79 L198.99,171.49 L198.56,155.23 L199.19,165.07 L200.62,161.25 L201.07,161.41 L200.70,165.70 L201.03,164.22 L201.74,152.85 L202.30,164.14 L202.37,163.00 L203.51,160.28 L203.49,162.69 L204.02,157.64 L205.37,180.20 L205.23,158.05 L205.97,159.00 L206.75,155.11 L207.33,151.86 L207.37,159.37 L208.02,165.67 L208.17,157.34 L209.70,152.23 L209.76,162.47 L209.56,168.44 L210.50,173.04 L211.29,160.92 L211.69,155.15 L212.73,161.34 L213.05,162.65 L212.78,164.00 L213.46,162.49 L213.49,155.28 L214.60,165.70 L215.06,158.40 L216.58,152.54 L216.04,152.60 L215.66,152.33 L216.73,161.72 L217.54,156.09 L217.50,156.74 L218.15,162.24 L218.85,156.18 L219.64,158.45 L219.93,144.02 L220.14,156.64 L221.32,159.61 L221.28,150.27 L221.80,160.27 L221.95,158.35 L222.69,147.49 L223.76,146.17 L223.35,144.23 L224.47,143.15 L225.29,146.99 L225.35,153.01 L226.10,152.14 L226.05,140.59 L227.52,151.89 L227.94,138.34 L228.09,148.10 L227.69,145.75 L228.45,126.83 L230.07,144.69 L231.11,139.42 L230.71,123.17 L231.97,129.97 L230.99,134.63 L231.83,127.10 L232.50,119.24 L233.38,116.35 L232.12,125.03 L234.85,123.69 L235.69,121.96 L233.97,115.09 L234.28,120.55 L236.32,106.60 L235.91,123.33 L234.87,118.63 L238.23,101.88 L238.14,115.83 L238.07,127.79 L240.90,117.77 L239.63,131.27 L239.32,114.47 L240.59,125.45 L240.06,104.26 L240.81,115.77 L242.35,109.59 L242.00,130.43 L242.59,115.96 L245.00,114.78 L244.77,114.78 L245.22,105.38 L245.48,115.81 L245.94,132.51 L247.31,130.72 L246.48,119.15 L248.67,100.00 L246.64,121.49 L247.77,123.81 L247.35,126.50 L248.73,129.73 L249.87,132.91 L250.94,135.57 L250.11,134.50 L251.00,132.40 L251.33,136.10 L251.70,142.78 L252.02,138.05 L253.02,143.58 L252.81,146.86 L254.04,146.38 L254.51,145.93 L254.74,146.83 L255.10,151.74 L255.45,145.22 L257.25,147.09 L256.46,157.93 L258.12,160.42 L258.24,155.25 L258.35,161.21 L258.54,160.73 L259.92,159.56 L260.69,160.46 L260.13,154.79 L260.88,161.18 L261.92,160.21 L262.13,160.50 L263.30,159.98 L262.77,165.97 L263.72,156.09 L263.50,157.71 L265.34,163.28 L264.71,164.47 L264.62,163.55 L265.95,164.39 L266.44,162.39 L267.77,165.46 L267.36,162.46 L267.99,163.30 L268.74,154.86 L269.63,163.87 L269.47,160.79 L270.42,160.42 L270.71,159.82 L270.88,155.13 L271.53,162.92 L272.01,160.04 L272.13,155.81 L273.49,158.87 L272.95,159.32 L274.47,151.53 L274.88,155.36 L274.96,154.99 L275.19,157.90 L275.91,161.47 L276.69,156.57 L277.30,163.44 L277.61,166.93 L278.40,160.95 L278.28,163.75 L279.09,161.92 L278.87,162.95 L280.31,160.92 L280.56,162.46 L280.83,166.61 L281.96,162.23 L282.28,167.70 L281.37,168.77 L283.02,158.45 L282.92,163.52 L284.43,169.51 L285.50,165.55 L284.79,164.81 L285.53,161.94 L285.90,167.31 L286.64,171.64 L287.26,165.82 L288.01,158.29 L287.61,172.01 L289.13,165.18 L288.63,168.28 L289.61,169.71 L290.46,171.83 L290.79,175.43 L290.62,169.71 L291.22,170.67 L291.82,169.15 L292.48,164.16 L293.46,160.38 L292.98,169.00 L294.19,166.55 L294.74,167.29 L295.22,161.76 L295.69,169.09 L296.61,168.62 L296.70,168.63 L297.34,166.05 L297.73,159.55 L298.72,175.64 L297.74,163.38 L299.51,168.23 L299.40,167.39 L299.89,171.25 L300.11,162.13 L300.25,168.27 L301.35,161.40 L301.73,162.89 L302.70,161.77 L302.41,161.38 L304.07,160.16 L304.11,158.94 L304.40,167.14 L304.72,154.72 L305.19,161.43 L305.55,156.33 L306.28,160.21 L307.00,159.74 L307.43,149.57 L307.43,155.27 L308.39,158.23 L308.64,152.25 L309.56,157.99 L310.75,151.63 L310.75,150.63 L310.87,152.38 L310.85,156.79 L311.43,158.02 L311.83,157.03 L313.29,159.32 L313.19,164.02 L314.03,157.69 L314.25,156.50 L315.04,161.63 L316.06,160.47 L315.73,166.51 L316.36,159.81 L316.68,167.65 L317.85,160.17 L317.59,160.80 L318.05,166.80 L318.44,164.65 L318.94,164.65 L320.19,166.27 L321.53,166.17 L320.60,166.86 L321.88,163.61 L322.10,168.63 L322.06,169.41 L322.89,166.87 L323.41,163.53 L323.72,163.95 L325.27,168.37 L324.24,169.42 L325.65,168.37 L326.13,176.88 L326.27,167.45 L327.06,162.94 L327.85,170.38 L328.06,169.49 L328.67,176.18 L329.28,172.16 L328.69,172.65 L330.59,171.98 L331.41,182.19 L331.39,175.50 L331.91,172.02 L331.44,171.32 L332.45,175.54 L332.68,175.14 L333.27,174.60 L334.39,173.26 L334.18,169.78 L334.95,173.75 L334.74,176.74 L335.94,180.32 L336.54,182.57 L336.72,181.41 L337.21,178.38 L338.75,174.39 L338.02,174.81 L338.58,176.07 L339.18,176.79 L340.48,180.39 L341.34,175.54 L341.13,183.22 L341.21,183.93 L341.83,175.93 L342.93,187.81 L342.64,178.90 L344.08,181.19 L344.57,184.94 L344.53,176.81 L345.26,179.48 L345.80,180.28 L346.62,181.21 L346.08,179.50 L347.47,180.80 L347.35,182.23 L347.69,185.96 L348.54,186.91 L348.91,178.53 L349.11,181.63 L349.36,185.86 L350.12,181.55" stroke="#000" stroke-width="1.5" fill="none" stroke-dasharray="1.4 2.2"/>
<path d="M65.88,180.05 L66.62,178.90 L67.20,181.20 L67.75,177.78 L67.75,181.50 L68.50,180.83 L68.90,179.93 L69.23,177.66 L69.55,175.30 L70.47,176.10 L70.73,182.08 L72.14,180.87 L71.97,181.06 L72.43,179.05 L72.88,183.69 L74.06,177.26 L73.71,181.67 L74.45,181.65 L74.76,183.34 L75.46,182.70 L75.98,180.10 L76.82,180.37 L76.57,181.40 L77.49,179.70 L78.48,180.05 L78.34,185.28 L78.94,181.00 L79.23,183.57 L79.21,184.29 L80.46,178.17 L81.35,185.01 L81.35,180.76 L81.44,178.93 L82.57,179.55 L83.02,180.44 L83.80,177.49 L84.27,179.33 L84.41,180.30 L85.11,178.50 L84.96,184.51 L86.33,180.98 L86.55,179.18 L87.32,179.67 L87.81,180.95 L87.91,181.06 L88.45,180.07 L88.73,181.07 L88.87,178.13 L89.96,178.56 L90.54,178.17 L90.67,179.56 L91.71,178.04 L92.02,179.90 L92.63,178.14 L92.76,179.85 L92.97,179.59 L94.23,181.25 L94.68,178.49 L94.96,179.40 L95.37,178.25 L95.91,179.41 L96.45,177.36 L96.84,177.61 L96.89,179.15 L98.23,177.77 L98.05,176.88 L98.90,182.67 L99.40,179.72 L100.07,179.46 L100.01,179.43 L101.36,177.59 L101.69,177.10 L102.23,176.74 L102.88,179.12 L102.76,176.69 L102.56,174.23 L104.10,175.00 L104.89,175.34 L105.35,175.84 M179.45,130.94 L180.41,136.05 L181.24,133.74 L180.01,138.62 L181.49,146.90 L182.05,143.75 L184.01,140.87 L183.12,147.18 L184.81,149.12 L184.50,156.53 L184.33,147.22 L186.39,151.13 L185.61,145.35 L186.75,151.78 L187.68,151.69 L187.29,157.98 L187.51,157.31 L188.92,161.21 L189.03,156.78 L189.01,151.74 L189.57,165.51 L190.34,154.88 L191.39,150.83 L191.39,150.41 L192.26,160.12 L193.16,160.76 L193.51,153.51 L194.08,177.00 L194.49,158.99 L193.86,160.62 L195.49,170.71 L195.63,159.03 L195.95,159.80 L196.07,165.57 L196.36,162.17 L197.06,159.58 L197.99,160.58 L198.03,158.25 L198.67,166.99 L199.25,145.87 L200.27,167.67 L200.38,143.80 L200.94,162.12 L202.03,164.43 L201.87,159.65 L202.74,161.37 L202.58,165.83 L203.63,159.88 L204.05,167.18 L204.57,157.73 L204.81,168.05 L205.09,161.60 L205.88,165.07 L206.31,159.26 L207.41,163.63 L207.86,158.01 L207.52,156.82 L208.75,166.19 L208.81,167.98 L209.68,165.30 L209.81,160.26 L209.91,152.52 L211.41,162.96 L211.68,162.04 L211.51,163.69 L211.74,175.11 L212.79,159.20 L213.03,164.93 L213.85,150.82 L214.75,148.52 L215.59,164.22 L215.36,155.63 L216.55,157.64 L216.97,160.24 L216.83,146.29 L216.83,168.98 L218.34,152.04 L218.74,168.91 L219.94,163.39 L220.07,161.81 L220.31,162.59 L221.18,163.48 L220.58,144.75 L221.58,145.47 L221.89,159.46 L223.20,145.54 L223.23,150.87 L222.28,154.66 L224.55,150.38 L224.14,142.52 L225.31,142.84 L225.31,146.96 L226.10,144.85 L226.76,153.63 L227.08,138.70 L227.12,146.39 L228.56,153.81 L228.69,136.72 L229.00,140.67 L229.92,128.43 L229.66,138.85 L231.85,146.81 L231.19,132.50 L231.82,132.47 L232.33,124.57 L231.69,118.72 L231.96,117.71 L233.71,124.22 L234.33,128.05 L235.73,122.02 L235.42,108.55 L234.54,113.66 L236.49,119.31 L237.26,111.61 L237.92,128.28 L237.82,122.52 L236.92,134.78 L239.56,110.26 L238.36,104.15 L240.03,116.85 L238.60,118.18 L241.21,112.60 L240.31,113.22 L242.49,115.03 L243.60,117.95 L243.57,119.75 L241.97,122.35 L242.67,119.92 L243.23,113.28 L245.11,118.23 L245.33,109.67 L245.66,122.99 L246.29,122.12 L247.04,119.73 L247.60,122.34 L249.04,124.08 L247.96,108.87 L248.68,137.39 L247.57,127.61 L248.57,126.57 L249.56,134.43 L249.81,131.21 L251.12,140.52 L251.99,138.36 L251.83,141.78 L252.31,140.97 L252.80,150.15 L253.56,148.17 L253.79,144.00 L254.67,147.62 L255.12,150.08 L255.64,153.11 L256.31,152.67 L256.51,153.15 L257.06,151.68 L258.21,154.03 L257.98,153.51 L258.82,162.09 L259.02,166.03 L259.32,163.59 L259.82,161.43 L260.17,161.15 L261.00,159.51 L261.26,160.32 L261.83,169.31 L262.99,163.02 L262.95,160.73 L263.96,163.32 L264.11,167.11 L264.84,161.44 L264.75,164.84 L265.56,163.44 L267.05,170.36 L266.83,167.26 L267.40,159.81 L267.59,167.93 L268.34,158.08 L268.03,162.21 L268.66,154.80 L269.67,155.74 L270.33,156.12 L270.33,156.29 L270.92,165.39 L271.35,157.14 L271.92,156.23 L272.02,153.31 L272.42,161.42 L273.46,156.61 L273.30,157.78 L274.10,153.83 L274.73,158.76 L275.07,159.53 L276.09,148.75 L276.32,164.15 L276.96,161.42 L277.09,158.24 L277.70,157.33 L278.70,163.29 L279.14,162.26 L279.31,163.73 L280.14,162.92 L280.57,163.60 L281.05,160.59 L282.13,158.16 L281.83,161.02 L282.66,170.38 L283.16,165.97 L283.39,165.99 L283.52,170.10 L284.76,165.90 L285.09,174.63 L285.51,167.36 L286.00,167.84 L286.49,167.20 L286.63,162.24 L287.60,171.05 L287.26,173.84 L288.47,166.61 L288.39,177.43 L289.34,172.06 L290.27,175.75 L290.38,169.65 L290.79,168.81 L291.69,167.00 L291.87,174.19 L292.32,166.33 L292.82,159.26 L294.08,171.81 L294.25,165.33 L294.67,166.06 L294.50,170.93 L295.73,166.52 L295.46,167.65 L296.67,168.86 L296.53,170.51 L298.26,170.73 L297.30,167.21 L298.97,168.83 L299.30,167.14 L298.77,169.42 L299.88,162.90 L301.05,167.40 L301.43,159.29 L300.81,169.99 L301.77,166.12 L302.01,157.97 L302.57,163.01 L303.22,152.18 L304.71,161.73 L304.53,149.86 L304.88,157.66 L305.34,153.31 L306.24,158.55 L306.75,156.86 L306.61,156.09 L308.06,156.09 L307.54,150.95 L308.36,145.36 L309.15,144.20 L310.16,155.04 L309.84,165.66 L310.59,156.02 L311.50,160.18 L311.72,159.22 L312.42,154.11 L312.89,156.24 L313.08,152.69 L313.73,157.93 L314.34,159.89 L314.46,156.52 L315.61,153.15 L314.68,162.67 L315.61,160.72 L317.05,157.23 L317.14,160.21 L317.22,162.93 L318.13,162.92 L318.91,161.10 L318.75,160.32 L319.78,164.54 L319.93,164.88 L320.43,163.68 L320.95,164.53 L321.92,169.67 L321.53,163.39 L322.33,167.43 L323.24,169.71 L322.99,165.97 L323.34,164.38 L324.70,168.72 L324.98,169.42 L325.42,168.86 L326.03,170.88 L326.09,167.07 L328.14,173.91 L327.08,170.60 L327.80,172.68 L327.91,174.95 L328.81,174.38 L330.09,174.17 L329.98,172.59 L330.71,172.29 L330.78,171.98 L332.20,175.58 L332.04,174.53 L331.98,179.70 L333.28,175.77 L333.33,178.93 L334.22,173.14 L334.53,174.57 L335.08,182.62 L335.53,178.24 L335.61,178.92 L335.87,175.71 L337.36,176.75 L337.42,178.29 L338.09,177.41 L338.29,182.33 L338.17,176.51 L338.96,175.20 L340.53,187.57 L340.16,177.60 L340.82,175.19 L340.89,179.79 L341.76,181.79 L342.33,179.20 L342.89,179.10 L343.44,176.22 L343.72,183.66 L344.24,182.44 L344.97,179.77 L345.60,184.18 L345.92,183.60 L347.17,180.96 L347.06,183.34 L347.54,181.71 L347.71,184.87 L348.88,182.62 L348.56,183.67 L348.83,185.37 L349.58,182.79 L350.72,181.24" stroke="#000" stroke-width="1.4" fill="none" stroke-dasharray="1.3 4.5" stroke-dashoffset="1.7"/>
<path d="M548.0,52.4 H996.0 M548.0,329.3 H996.0" stroke="#1a1a1a" stroke-width="1.45" fill="none"/>
<path d="M548.0,46.8 V335" stroke="#1a1a1a" stroke-width="1.45" fill="none"/>
<path d="M772.4,46.8 V180.6 M772.4,210 V335" stroke="#1a1a1a" stroke-width="1.45" fill="none"/>
<path d="M996.0,46.8 V98.3 M996.0,128.7 V165 M996.0,194.2 V335" stroke="#1a1a1a" stroke-width="1.45" fill="none"/>
<path d="M559.22,52.4 V57.6 M559.22,324.6 V329.3" stroke="#1a1a1a" stroke-width="1.45" fill="none"/>
<path d="M783.58,52.4 V57.6 M783.58,324.6 V329.3" stroke="#1a1a1a" stroke-width="1.45" fill="none"/>
<path d="M570.44,52.4 V57.6 M570.44,324.6 V329.3" stroke="#1a1a1a" stroke-width="1.45" fill="none"/>
<path d="M794.76,52.4 V57.6 M794.76,324.6 V329.3" stroke="#1a1a1a" stroke-width="1.45" fill="none"/>
<path d="M581.66,52.4 V57.6 M581.66,324.6 V329.3" stroke="#1a1a1a" stroke-width="1.45" fill="none"/>
<path d="M805.94,52.4 V57.6 M805.94,324.6 V329.3" stroke="#1a1a1a" stroke-width="1.45" fill="none"/>
<path d="M592.88,52.4 V57.6 M592.88,324.6 V329.3" stroke="#1a1a1a" stroke-width="1.45" fill="none"/>
<path d="M817.12,52.4 V57.6 M817.12,324.6 V329.3" stroke="#1a1a1a" stroke-width="1.45" fill="none"/>
<path d="M604.10,46.8 V57.6 M604.10,324.6 V335" stroke="#1a1a1a" stroke-width="1.45" fill="none"/>
<path d="M828.30,46.8 V57.6 M828.30,324.6 V335" stroke="#1a1a1a" stroke-width="1.45" fill="none"/>
<path d="M615.32,52.4 V57.6 M615.32,324.6 V329.3" stroke="#1a1a1a" stroke-width="1.45" fill="none"/>
<path d="M839.48,52.4 V57.6 M839.48,324.6 V329.3" stroke="#1a1a1a" stroke-width="1.45" fill="none"/>
<path d="M626.54,52.4 V57.6 M626.54,324.6 V329.3" stroke="#1a1a1a" stroke-width="1.45" fill="none"/>
<path d="M850.66,52.4 V57.6 M850.66,324.6 V329.3" stroke="#1a1a1a" stroke-width="1.45" fill="none"/>
<path d="M637.76,52.4 V57.6 M637.76,324.6 V329.3" stroke="#1a1a1a" stroke-width="1.45" fill="none"/>
<path d="M861.84,52.4 V57.6 M861.84,324.6 V329.3" stroke="#1a1a1a" stroke-width="1.45" fill="none"/>
<path d="M648.98,52.4 V57.6 M648.98,324.6 V329.3" stroke="#1a1a1a" stroke-width="1.45" fill="none"/>
<path d="M873.02,52.4 V57.6 M873.02,324.6 V329.3" stroke="#1a1a1a" stroke-width="1.45" fill="none"/>
<path d="M660.20,46.8 V57.6 M660.20,324.6 V335" stroke="#1a1a1a" stroke-width="1.45" fill="none"/>
<path d="M884.20,46.8 V57.6 M884.20,324.6 V335" stroke="#1a1a1a" stroke-width="1.45" fill="none"/>
<path d="M671.42,52.4 V57.6 M671.42,324.6 V329.3" stroke="#1a1a1a" stroke-width="1.45" fill="none"/>
<path d="M895.38,52.4 V57.6 M895.38,324.6 V329.3" stroke="#1a1a1a" stroke-width="1.45" fill="none"/>
<path d="M682.64,52.4 V57.6 M682.64,324.6 V329.3" stroke="#1a1a1a" stroke-width="1.45" fill="none"/>
<path d="M906.56,52.4 V57.6 M906.56,324.6 V329.3" stroke="#1a1a1a" stroke-width="1.45" fill="none"/>
<path d="M693.86,52.4 V57.6 M693.86,324.6 V329.3" stroke="#1a1a1a" stroke-width="1.45" fill="none"/>
<path d="M917.74,52.4 V57.6 M917.74,324.6 V329.3" stroke="#1a1a1a" stroke-width="1.45" fill="none"/>
<path d="M705.08,52.4 V57.6 M705.08,324.6 V329.3" stroke="#1a1a1a" stroke-width="1.45" fill="none"/>
<path d="M928.92,52.4 V57.6 M928.92,324.6 V329.3" stroke="#1a1a1a" stroke-width="1.45" fill="none"/>
<path d="M716.30,46.8 V57.6 M716.30,324.6 V335" stroke="#1a1a1a" stroke-width="1.45" fill="none"/>
<path d="M940.10,46.8 V57.6 M940.10,324.6 V335" stroke="#1a1a1a" stroke-width="1.45" fill="none"/>
<path d="M727.52,52.4 V57.6 M727.52,324.6 V329.3" stroke="#1a1a1a" stroke-width="1.45" fill="none"/>
<path d="M951.28,52.4 V57.6 M951.28,324.6 V329.3" stroke="#1a1a1a" stroke-width="1.45" fill="none"/>
<path d="M738.74,52.4 V57.6 M738.74,324.6 V329.3" stroke="#1a1a1a" stroke-width="1.45" fill="none"/>
<path d="M962.46,52.4 V57.6 M962.46,324.6 V329.3" stroke="#1a1a1a" stroke-width="1.45" fill="none"/>
<path d="M749.96,52.4 V57.6 M749.96,324.6 V329.3" stroke="#1a1a1a" stroke-width="1.45" fill="none"/>
<path d="M973.64,52.4 V57.6 M973.64,324.6 V329.3" stroke="#1a1a1a" stroke-width="1.45" fill="none"/>
<path d="M761.18,52.4 V57.6 M761.18,324.6 V329.3" stroke="#1a1a1a" stroke-width="1.45" fill="none"/>
<path d="M984.82,52.4 V57.6 M984.82,324.6 V329.3" stroke="#1a1a1a" stroke-width="1.45" fill="none"/>
<path d="M548.0,311.97 H552.4" stroke="#1a1a1a" stroke-width="1.45" fill="none"/>
<path d="M990,311.97 H996.0" stroke="#1a1a1a" stroke-width="1.45" fill="none"/>
<path d="M548.0,294.63 H552.4" stroke="#1a1a1a" stroke-width="1.45" fill="none"/>
<path d="M990,294.63 H996.0" stroke="#1a1a1a" stroke-width="1.45" fill="none"/>
<path d="M548.0,277.30 H552.4" stroke="#1a1a1a" stroke-width="1.45" fill="none"/>
<path d="M990,277.30 H996.0" stroke="#1a1a1a" stroke-width="1.45" fill="none"/>
<path d="M548.0,259.97 H552.4" stroke="#1a1a1a" stroke-width="1.45" fill="none"/>
<path d="M990,259.97 H996.0" stroke="#1a1a1a" stroke-width="1.45" fill="none"/>
<path d="M542.4,242.63 H552.4" stroke="#1a1a1a" stroke-width="1.45" fill="none"/>
<path d="M990,242.63 H996.0" stroke="#1a1a1a" stroke-width="1.45" fill="none"/>
<path d="M548.0,225.30 H552.4" stroke="#1a1a1a" stroke-width="1.45" fill="none"/>
<path d="M990,225.30 H996.0" stroke="#1a1a1a" stroke-width="1.45" fill="none"/>
<path d="M548.0,207.97 H552.4" stroke="#1a1a1a" stroke-width="1.45" fill="none"/>
<path d="M990,207.97 H996.0" stroke="#1a1a1a" stroke-width="1.45" fill="none"/>
<path d="M548.0,190.63 H552.4" stroke="#1a1a1a" stroke-width="1.45" fill="none"/>
<path d="M548.0,173.30 H552.4" stroke="#1a1a1a" stroke-width="1.45" fill="none"/>
<path d="M542.4,155.97 H552.4" stroke="#1a1a1a" stroke-width="1.45" fill="none"/>
<path d="M990,155.97 H996.0" stroke="#1a1a1a" stroke-width="1.45" fill="none"/>
<path d="M548.0,138.63 H552.4" stroke="#1a1a1a" stroke-width="1.45" fill="none"/>
<path d="M990,138.63 H996.0" stroke="#1a1a1a" stroke-width="1.45" fill="none"/>
<path d="M548.0,121.30 H552.4" stroke="#1a1a1a" stroke-width="1.45" fill="none"/>
<path d="M548.0,103.97 H552.4" stroke="#1a1a1a" stroke-width="1.45" fill="none"/>
<path d="M548.0,86.63 H552.4" stroke="#1a1a1a" stroke-width="1.45" fill="none"/>
<path d="M990,86.63 H996.0" stroke="#1a1a1a" stroke-width="1.45" fill="none"/>
<path d="M542.4,69.30 H552.4" stroke="#1a1a1a" stroke-width="1.45" fill="none"/>
<path d="M990,69.30 H996.0" stroke="#1a1a1a" stroke-width="1.45" fill="none"/>
<path d="M548.00,312.00 L548.07,311.43 L548.13,310.89 L548.19,310.39 L548.25,309.90 L548.31,309.42 L548.37,308.94 L548.43,308.46 L548.49,307.98 L548.55,307.50 L548.61,307.02 L548.67,306.53 L548.74,306.04 L548.80,305.54 L548.86,305.05 L548.93,304.56 L548.99,304.06 L549.06,303.56 L549.12,303.07 L549.19,302.57 L549.25,302.08 L549.32,301.58 L549.38,301.09 L549.45,300.59 L549.52,300.10 L549.58,299.60 L549.65,299.10 L549.72,298.61 L549.79,298.11 L549.85,297.62 L549.92,297.12 L549.99,296.63 L550.06,296.13 L550.13,295.64 L550.20,295.14 L550.27,294.65 L550.34,294.15 L550.41,293.66 L550.48,293.16 L550.56,292.67 L550.63,292.17 L550.70,291.68 L550.77,291.18 L550.85,290.69 L550.92,290.20 L551.00,289.70 L551.07,289.21 L551.15,288.71 L551.23,288.22 L551.30,287.73 L551.38,287.23 L551.46,286.74 L551.54,286.24 L551.62,285.75 L551.69,285.26 L551.77,284.76 L551.85,284.27 L551.93,283.77 L552.01,283.28 L552.09,282.79 L552.17,282.29 L552.25,281.80 L552.32,281.31 L552.40,280.81 L552.48,280.32 L552.56,279.82 L552.64,279.33 L552.71,278.84 L552.79,278.34 L552.87,277.85 L552.94,277.35 L553.02,276.86 L553.09,276.36 L553.17,275.87 L553.25,275.38 L553.32,274.88 L553.40,274.39 L553.47,273.89 L553.55,273.40 L553.62,272.90 L553.70,272.41 L553.77,271.92 L553.85,271.42 L553.92,270.93 L554.00,270.43 L554.07,269.94 L554.15,269.44 L554.22,268.95 L554.30,268.45 L554.37,267.96 L554.44,267.47 L554.51,266.97 L554.59,266.48 L554.66,265.98 L554.73,265.49 L554.80,264.99 L554.87,264.50 L554.94,264.00 L555.01,263.51 L555.08,263.01 L555.15,262.52 L555.22,262.02 L555.29,261.53 L555.35,261.03 L555.42,260.53 L555.49,260.04 L555.55,259.54 L555.62,259.05 L555.68,258.55 L555.74,258.06 L555.81,257.56 L555.87,257.06 L555.93,256.57 L555.99,256.07 L556.05,255.58 L556.11,255.08 L556.17,254.58 L556.23,254.09 L556.29,253.59 L556.35,253.09 L556.41,252.60 L556.47,252.10 L556.53,251.60 L556.59,251.11 L556.64,250.61 L556.70,250.11 L556.76,249.62 L556.82,249.12 L556.88,248.62 L556.93,248.13 L556.99,247.63 L557.05,247.13 L557.11,246.64 L557.17,246.14 L557.23,245.64 L557.28,245.15 L557.34,244.65 L557.40,244.15 L557.46,243.66 L557.52,243.16 L557.58,242.66 L557.64,242.17 L557.69,241.67 L557.75,241.18 L557.81,240.68 L557.87,240.18 L557.93,239.69 L557.99,239.19 L558.05,238.69 L558.11,238.20 L558.16,237.70 L558.22,237.20 L558.28,236.71 L558.34,236.21 L558.40,235.71 L558.46,235.22 L558.51,234.72 L558.57,234.22 L558.63,233.73 L558.69,233.23 L558.74,232.73 L558.80,232.24 L558.86,231.74 L558.91,231.24 L558.97,230.75 L559.03,230.25 L559.08,229.75 L559.14,229.25 L559.20,228.76 L559.25,228.26 L559.31,227.76 L559.37,227.27 L559.42,226.77 L559.48,226.27 L559.54,225.78 L559.60,225.28 L559.66,224.79 L559.72,224.29 L559.78,223.79 L559.85,223.30 L559.91,222.80 L559.97,222.31 L560.04,221.81 L560.11,221.31 L560.17,220.82 L560.24,220.32 L560.31,219.83 L560.38,219.33 L560.45,218.84 L560.53,218.34 L560.60,217.85 L560.67,217.36 L560.75,216.86 L560.82,216.37 L560.90,215.87 L560.97,215.38 L561.05,214.88 L561.12,214.39 L561.20,213.90 L561.28,213.40 L561.35,212.91 L561.43,212.41 L561.50,211.92 L561.58,211.42 L561.65,210.93 L561.73,210.43 L561.80,209.94 L561.88,209.45 L561.95,208.95 L562.02,208.46 L562.10,207.96 L562.17,207.47 L562.24,206.97 L562.32,206.48 L562.39,205.98 L562.46,205.49 L562.54,204.99 L562.61,204.50 L562.69,204.01 L562.76,203.51 L562.84,203.02 L562.91,202.52 L562.99,202.03 L563.07,201.53 L563.14,201.04 L563.22,200.55 L563.30,200.05 L563.38,199.56 L563.46,199.07 L563.55,198.57 L563.63,198.08 L563.71,197.59 L563.80,197.09 L563.88,196.60 L563.97,196.11 L564.06,195.62 L564.15,195.12 L564.23,194.63 L564.32,194.14 L564.41,193.65 L564.51,193.16 L564.60,192.67 L564.69,192.17 L564.78,191.68 L564.88,191.19 L564.98,190.70 L565.07,190.21 L565.17,189.72 L565.27,189.23 L565.37,188.74 L565.47,188.25 L565.58,187.76 L565.68,187.28 L565.79,186.79 L565.89,186.30 L566.00,185.81 L566.11,185.32 L566.22,184.83 L566.32,184.34 L566.43,183.86 L566.54,183.37 L566.65,182.88 L566.76,182.39 L566.87,181.91 L566.98,181.42 L567.09,180.93 L567.20,180.44 L567.31,179.95 L567.42,179.47 L567.53,178.98 L567.64,178.49 L567.74,178.00 L567.85,177.51 L567.96,177.02 L568.07,176.54 L568.18,176.05 L568.29,175.56 L568.39,175.07 L568.50,174.58 L568.61,174.10 L568.72,173.61 L568.82,173.12 L568.93,172.63 L569.03,172.14 L569.14,171.65 L569.24,171.16 L569.35,170.67 L569.45,170.19 L569.55,169.70 L569.65,169.21 L569.75,168.72 L569.85,168.23 L569.95,167.74 L570.05,167.25 L570.15,166.76 L570.25,166.27 L570.35,165.78 L570.44,165.28 L570.54,164.79 L570.64,164.30 L570.74,163.81 L570.83,163.32 L570.93,162.83 L571.03,162.34 L571.13,161.85 L571.23,161.36 L571.33,160.87 L571.43,160.38 L571.53,159.89 L571.63,159.40 L571.73,158.91 L571.84,158.42 L571.94,157.94 L572.04,157.45 L572.15,156.96 L572.25,156.47 L572.36,155.98 L572.46,155.49 L572.57,155.00 L572.68,154.51 L572.79,154.03 L572.90,153.54 L573.01,153.05 L573.12,152.56 L573.23,152.07 L573.34,151.59 L573.45,151.10 L573.56,150.61 L573.68,150.13 L573.79,149.64 L573.91,149.15 L574.02,148.67 L574.14,148.18 L574.26,147.69 L574.38,147.21 L574.50,146.72 L574.62,146.23 L574.74,145.75 L574.87,145.26 L574.99,144.78 L575.12,144.30 L575.25,143.81 L575.38,143.33 L575.52,142.85 L575.65,142.37 L575.79,141.89 L575.93,141.41 L576.08,140.94 L576.23,140.46 L576.38,139.98 L576.54,139.51 L576.70,139.04 L576.86,138.56 L577.02,138.09 L577.19,137.62 L577.37,137.15 L577.54,136.69 L577.72,136.22 L577.90,135.75 L578.08,135.29 L578.27,134.82 L578.46,134.36 L578.65,133.90 L578.85,133.43 L579.04,132.97 L579.24,132.51 L579.44,132.06 L579.65,131.60 L579.85,131.14 L580.06,130.69 L580.27,130.24 L580.48,129.79 L580.70,129.33 L580.91,128.89 L581.13,128.44 L581.36,127.99 L581.58,127.55 L581.81,127.10 L582.04,126.66 L582.27,126.21 L582.51,125.77 L582.74,125.33 L582.98,124.89 L583.22,124.45 L583.46,124.01 L583.70,123.57 L583.94,123.14 L584.19,122.70 L584.43,122.26 L584.67,121.82 L584.92,121.38 L585.16,120.95 L585.41,120.51 L585.65,120.07 L585.89,119.63 L586.14,119.20 L586.38,118.76 L586.62,118.32 L586.87,117.88 L587.11,117.44 L587.36,117.01 L587.61,116.57 L587.86,116.14 L588.11,115.70 L588.36,115.27 L588.62,114.84 L588.88,114.42 L589.14,113.99 L589.41,113.57 L589.68,113.16 L589.96,112.74 L590.24,112.33 L590.52,111.92 L590.82,111.52 L591.11,111.12 L591.41,110.72 L591.72,110.33 L592.03,109.94 L592.35,109.55 L592.67,109.17 L592.99,108.79 L593.32,108.41 L593.65,108.04 L593.99,107.67 L594.33,107.30 L594.67,106.94 L595.02,106.58 L595.37,106.22 L595.72,105.87 L596.08,105.52 L596.44,105.18 L596.81,104.84 L597.17,104.50 L597.54,104.17 L597.92,103.84 L598.29,103.51 L598.67,103.18 L599.05,102.85 L599.43,102.53 L599.82,102.21 L600.20,101.89 L600.59,101.56 L600.97,101.24 L601.36,100.92 L601.74,100.60 L602.13,100.28 L602.52,99.96 L602.90,99.63 L603.29,99.31 L603.67,98.99 L604.05,98.66 L604.44,98.34 L604.82,98.01 L605.21,97.69 L605.60,97.36 L605.98,97.04 L606.37,96.73 L606.76,96.41 L607.16,96.11 L607.55,95.80 L607.95,95.50 L608.35,95.21 L608.76,94.93 L609.17,94.65 L609.58,94.38 L610.00,94.11 L610.42,93.85 L610.84,93.60 L611.27,93.35 L611.70,93.11 L612.14,92.88 L612.58,92.65 L613.03,92.42 L613.48,92.20 L613.93,91.99 L614.38,91.78 L614.84,91.57 L615.30,91.37 L615.76,91.17 L616.22,90.98 L616.69,90.79 L617.16,90.60 L617.63,90.42 L618.10,90.25 L618.57,90.07 L619.04,89.91 L619.51,89.74 L619.98,89.58 L620.46,89.43 L620.93,89.28 L621.41,89.13 L621.88,88.98 L622.36,88.84 L622.84,88.70 L623.32,88.56 L623.80,88.43 L624.28,88.30 L624.76,88.17 L625.24,88.05 L625.72,87.93 L626.20,87.81 L626.67,87.69 L627.14,87.58 L627.61,87.47 L628.08,87.37 L628.55,87.26 L629.02,87.16 L629.51,87.07 L630.02,86.97 L630.56,86.87 L631.00,86.80" stroke="#000" stroke-width="1.65" fill="none" stroke-linejoin="round"/>
<path d="M643.90,82.90 L644.47,82.82 L645.00,82.74 L645.51,82.67 L646.00,82.60 L646.48,82.53 L646.95,82.47 L647.43,82.40 L647.91,82.34 L648.39,82.27 L648.87,82.21 L649.36,82.14 L649.85,82.08 L650.34,82.02 L650.84,81.95 L651.33,81.89 L651.83,81.83 L652.32,81.76 L652.82,81.70 L653.32,81.64 L653.81,81.58 L654.31,81.52 L654.81,81.46 L655.30,81.40 L655.80,81.34 L656.30,81.29 L656.79,81.23 L657.29,81.18 L657.79,81.12 L658.28,81.07 L658.78,81.01 L659.28,80.96 L659.77,80.91 L660.27,80.85 L660.77,80.80 L661.27,80.75 L661.76,80.70 L662.26,80.65 L662.76,80.60 L663.26,80.55 L663.75,80.50 L664.25,80.45 L664.75,80.41 L665.25,80.36 L665.75,80.31 L666.24,80.27 L666.74,80.22 L667.24,80.17 L667.74,80.13 L668.23,80.08 L668.73,80.04 L669.23,80.00 L669.73,79.95 L670.23,79.91 L670.73,79.87 L671.22,79.82 L671.72,79.78 L672.22,79.74 L672.72,79.70 L673.22,79.66 L673.71,79.61 L674.21,79.57 L674.71,79.53 L675.21,79.49 L675.71,79.45 L676.21,79.41 L676.71,79.37 L677.20,79.33 L677.70,79.29 L678.20,79.25 L678.70,79.21 L679.20,79.18 L679.70,79.14 L680.20,79.10 L680.69,79.07 L681.19,79.03 L681.69,78.99 L682.19,78.96 L682.69,78.92 L683.19,78.89 L683.69,78.86 L684.19,78.83 L684.69,78.79 L685.18,78.76 L685.68,78.73 L686.18,78.70 L686.68,78.67 L687.18,78.65 L687.68,78.62 L688.18,78.59 L688.68,78.56 L689.18,78.54 L689.68,78.51 L690.18,78.49 L690.68,78.46 L691.17,78.44 L691.67,78.41 L692.17,78.39 L692.67,78.37 L693.17,78.34 L693.67,78.32 L694.17,78.30 L694.67,78.28 L695.17,78.26 L695.67,78.24 L696.17,78.22 L696.67,78.20 L697.17,78.19 L697.67,78.17 L698.17,78.16 L698.67,78.14 L699.17,78.13 L699.67,78.12 L700.17,78.10 L700.67,78.09 L701.17,78.08 L701.67,78.07 L702.17,78.06 L702.67,78.05 L703.17,78.04 L703.67,78.03 L704.17,78.02 L704.67,78.01 L705.17,78.00 L705.67,78.00 L706.17,77.99 L706.67,77.98 L707.17,77.97 L707.67,77.97 L708.17,77.96 L708.66,77.95 L709.16,77.95 L709.66,77.94 L710.15,77.94 L710.64,77.93 L711.13,77.93 L711.61,77.92 L712.09,77.92 L712.57,77.91 L713.05,77.91 L713.53,77.91 L714.03,77.90 L714.54,77.90 L715.08,77.90 L715.50,77.90" stroke="#000" stroke-width="2.1" fill="none" stroke-linejoin="round"/>
<path d="M715.5,77.9 H750.3" stroke="#000" stroke-width="1.45"/>
<circle cx="715.5" cy="77.9" r="4.9" fill="#000"/>
<path d="M548.00,312.00 L548.07,311.43 L548.14,310.89 L548.20,310.39 L548.27,309.90 L548.33,309.42 L548.39,308.94 L548.45,308.46 L548.51,307.99 L548.57,307.50 L548.63,307.02 L548.70,306.53 L548.76,306.04 L548.82,305.55 L548.89,305.05 L548.95,304.56 L549.02,304.06 L549.08,303.57 L549.15,303.07 L549.21,302.58 L549.28,302.08 L549.34,301.59 L549.41,301.09 L549.47,300.59 L549.54,300.10 L549.61,299.60 L549.67,299.11 L549.74,298.61 L549.81,298.12 L549.87,297.62 L549.94,297.13 L550.01,296.63 L550.07,296.13 L550.14,295.64 L550.21,295.14 L550.28,294.65 L550.34,294.15 L550.41,293.66 L550.48,293.16 L550.55,292.67 L550.62,292.17 L550.69,291.68 L550.76,291.18 L550.83,290.69 L550.90,290.19 L550.97,289.70 L551.04,289.20 L551.11,288.71 L551.18,288.21 L551.26,287.72 L551.33,287.22 L551.40,286.73 L551.47,286.23 L551.54,285.74 L551.62,285.24 L551.69,284.75 L551.76,284.25 L551.83,283.76 L551.91,283.26 L551.98,282.77 L552.05,282.27 L552.12,281.78 L552.19,281.29 L552.26,280.79 L552.33,280.30 L552.40,279.80 L552.47,279.31 L552.54,278.81 L552.61,278.31 L552.68,277.82 L552.75,277.32 L552.82,276.83 L552.89,276.33 L552.95,275.84 L553.02,275.34 L553.09,274.85 L553.15,274.35 L553.22,273.86 L553.29,273.36 L553.35,272.87 L553.42,272.37 L553.48,271.87 L553.55,271.38 L553.61,270.88 L553.68,270.39 L553.74,269.89 L553.81,269.39 L553.87,268.90 L553.94,268.40 L554.00,267.91 L554.06,267.41 L554.13,266.92 L554.19,266.42 L554.25,265.92 L554.32,265.43 L554.38,264.93 L554.44,264.44 L554.50,263.94 L554.57,263.44 L554.63,262.95 L554.69,262.45 L554.75,261.95 L554.82,261.46 L554.88,260.96 L554.94,260.47 L555.00,259.97 L555.06,259.47 L555.12,258.98 L555.18,258.48 L555.24,257.98 L555.29,257.49 L555.35,256.99 L555.41,256.49 L555.47,256.00 L555.52,255.50 L555.58,255.00 L555.64,254.51 L555.69,254.01 L555.75,253.51 L555.81,253.01 L555.86,252.52 L555.92,252.02 L555.98,251.52 L556.04,251.03 L556.10,250.53 L556.16,250.03 L556.22,249.54 L556.28,249.04 L556.34,248.55 L556.40,248.05 L556.47,247.55 L556.53,247.06 L556.60,246.56 L556.66,246.07 L556.73,245.57 L556.80,245.07 L556.87,244.58 L556.94,244.08 L557.02,243.59 L557.09,243.09 L557.17,242.60 L557.25,242.10 L557.33,241.61 L557.42,241.11 L557.50,240.62 L557.60,240.13 L557.69,239.64 L557.79,239.15 L557.90,238.66 L558.01,238.18 L558.14,237.69 L558.26,237.21 L558.40,236.73 L558.55,236.26 L558.70,235.78 L558.87,235.31 L559.04,234.85 L559.23,234.39 L559.43,233.93 L559.63,233.48 L559.85,233.03 L560.08,232.60 L560.32,232.17 L560.57,231.74 L560.83,231.33 L561.11,230.92 L561.40,230.52 L561.69,230.12 L562.00,229.74 L562.32,229.35 L562.65,228.98 L562.98,228.61 L563.33,228.25 L563.68,227.89 L564.04,227.53 L564.40,227.18 L564.76,226.84 L565.13,226.50 L565.50,226.16 L565.88,225.82 L566.25,225.49 L566.63,225.17 L567.02,224.85 L567.40,224.53 L567.79,224.21 L568.18,223.90 L568.57,223.58 L568.96,223.27 L569.36,222.97 L569.75,222.66 L570.15,222.35 L570.54,222.05 L570.94,221.74 L571.34,221.43 L571.73,221.12 L572.12,220.81 L572.52,220.50 L572.91,220.19 L573.30,219.87 L573.68,219.56 L574.07,219.24 L574.45,218.92 L574.84,218.60 L575.22,218.28 L575.60,217.96 L575.99,217.63 L576.37,217.31 L576.75,216.99 L577.13,216.66 L577.51,216.34 L577.90,216.02 L578.28,215.70 L578.66,215.38 L579.05,215.06 L579.43,214.74 L579.82,214.42 L580.20,214.10 L580.59,213.78 L580.97,213.46 L581.36,213.15 L581.74,212.83 L582.13,212.51 L582.52,212.19 L582.90,211.88 L583.29,211.56 L583.68,211.24 L584.06,210.93 L584.45,210.61 L584.84,210.29 L585.22,209.98 L585.61,209.66 L586.00,209.34 L586.38,209.02 L586.77,208.71 L587.16,208.39 L587.54,208.07 L587.93,207.75 L588.31,207.43 L588.70,207.11 L589.09,206.80 L589.47,206.48 L589.86,206.16 L590.24,205.84 L590.63,205.52 L591.02,205.21 L591.40,204.89 L591.79,204.57 L592.18,204.26 L592.57,203.94 L592.95,203.63 L593.34,203.31 L593.73,203.00 L594.12,202.68 L594.51,202.37 L594.90,202.06 L595.29,201.75 L595.68,201.44 L596.08,201.13 L596.47,200.82 L596.86,200.51 L597.26,200.21 L597.66,199.90 L598.05,199.60 L598.45,199.30 L598.85,198.99 L599.25,198.69 L599.65,198.39 L600.05,198.10 L600.45,197.80 L600.85,197.50 L601.25,197.20 L601.66,196.91 L602.06,196.61 L602.46,196.32 L602.87,196.03 L603.27,195.73 L603.68,195.44 L604.08,195.15 L604.49,194.85 L604.90,194.56 L605.30,194.27 L605.71,193.98 L606.11,193.69 L606.52,193.39 L606.93,193.10 L607.33,192.81 L607.74,192.52 L608.14,192.22 L608.55,191.93 L608.95,191.63 L609.36,191.34 L609.76,191.04 L610.16,190.75 L610.57,190.45 L610.97,190.15 L611.37,189.85 L611.77,189.55 L612.17,189.25 L612.57,188.95 L612.97,188.65 L613.36,188.35 L613.76,188.04 L614.16,187.74 L614.56,187.43 L614.95,187.13 L615.35,186.82 L615.74,186.51 L616.14,186.21 L616.54,185.90 L616.93,185.59 L617.33,185.29 L617.73,184.98 L618.12,184.67 L618.52,184.37 L618.92,184.07 L619.32,183.76 L619.71,183.46 L620.11,183.16 L620.51,182.86 L620.92,182.57 L621.32,182.27 L621.72,181.98 L622.13,181.69 L622.53,181.40 L622.94,181.11 L623.35,180.83 L623.76,180.54 L624.17,180.26 L624.59,179.98 L625.00,179.71 L625.42,179.43 L625.83,179.16 L626.25,178.89 L626.67,178.62 L627.09,178.35 L627.51,178.08 L627.94,177.82 L628.36,177.56 L628.79,177.30 L629.21,177.04 L629.64,176.78 L630.07,176.52 L630.50,176.26 L630.93,176.01 L631.36,175.75 L631.79,175.50 L632.22,175.24 L632.65,174.99 L633.09,174.74 L633.52,174.49 L633.95,174.24 L634.39,173.99 L634.82,173.74 L635.26,173.49 L635.69,173.24 L636.13,173.00 L636.56,172.75 L637.00,172.50 L637.43,172.25 L637.87,172.01 L638.31,171.76 L638.74,171.51 L639.18,171.26 L639.61,171.02 L640.05,170.77 L640.48,170.52 L640.91,170.27 L641.35,170.02 L641.78,169.77 L642.22,169.52 L642.65,169.27 L643.08,169.02 L643.52,168.77 L643.95,168.52 L644.38,168.27 L644.82,168.02 L645.25,167.77 L645.68,167.52 L646.12,167.27 L646.55,167.01 L646.98,166.76 L647.42,166.51 L647.85,166.26 L648.28,166.01 L648.72,165.76 L649.15,165.51 L649.59,165.26 L650.02,165.01 L650.46,164.77 L650.89,164.52 L651.33,164.27 L651.77,164.03 L652.20,163.79 L652.64,163.54 L653.08,163.30 L653.52,163.06 L653.96,162.82 L654.40,162.59 L654.84,162.35 L655.28,162.12 L655.72,161.88 L656.16,161.65 L656.60,161.42 L657.05,161.20 L657.49,160.97 L657.94,160.75 L658.38,160.53 L658.83,160.31 L659.28,160.09 L659.73,159.87 L660.18,159.66 L660.63,159.44 L661.08,159.23 L661.53,159.02 L661.98,158.82 L662.44,158.61 L662.89,158.40 L663.35,158.20 L663.80,158.00 L664.26,157.80 L664.72,157.60 L665.18,157.40 L665.64,157.20 L666.10,157.01 L666.56,156.81 L667.02,156.62 L667.48,156.42 L667.94,156.23 L668.40,156.04 L668.86,155.85 L669.33,155.66 L669.79,155.47 L670.25,155.28 L670.72,155.09 L671.18,154.91 L671.64,154.72 L672.11,154.53 L672.57,154.35 L673.04,154.16 L673.50,153.97 L673.97,153.79 L674.44,153.60 L674.90,153.42 L675.37,153.23 L675.83,153.05 L676.30,152.86 L676.76,152.68 L677.23,152.49 L677.69,152.31 L678.16,152.12 L678.62,151.93 L679.09,151.75 L679.55,151.56 L680.02,151.37 L680.48,151.19 L680.95,151.00 L681.41,150.81 L681.87,150.62 L682.33,150.43 L682.80,150.23 L683.26,150.04 L683.72,149.84 L684.18,149.65 L684.64,149.45 L685.10,149.25 L685.56,149.05 L686.02,148.85 L686.48,148.65 L686.94,148.44 L687.40,148.24 L687.86,148.03 L688.31,147.82 L688.77,147.61 L689.23,147.41 L689.69,147.20 L690.14,146.99 L690.60,146.78 L691.06,146.57 L691.52,146.36 L691.97,146.15 L692.43,145.94 L692.89,145.73 L693.35,145.52 L693.81,145.31 L694.26,145.11 L694.72,144.90 L695.18,144.70 L695.64,144.50 L696.10,144.30 L696.56,144.10 L697.02,143.90 L697.48,143.71 L697.95,143.52 L698.41,143.33 L698.87,143.14 L699.33,142.96 L699.80,142.78 L700.26,142.60 L700.73,142.43 L701.20,142.26 L701.67,142.09 L702.14,141.93 L702.60,141.77 L703.08,141.61 L703.55,141.46 L704.02,141.32 L704.50,141.17 L704.97,141.03 L705.45,140.90 L705.93,140.77 L706.41,140.64 L706.89,140.52 L707.37,140.40 L707.85,140.28 L708.34,140.17 L708.83,140.06 L709.31,139.95 L709.80,139.84 L710.29,139.74 L710.78,139.64 L711.27,139.54 L711.76,139.44 L712.25,139.34 L712.74,139.24 L713.24,139.14 L713.73,139.05 L714.22,138.95 L714.71,138.85 L715.20,138.75 L715.69,138.66 L716.19,138.56 L716.68,138.46 L717.17,138.37 L717.66,138.27 L718.15,138.18 L718.64,138.08 L719.13,137.98 L719.62,137.89 L720.11,137.79 L720.60,137.70 L721.10,137.60 L721.59,137.51 L722.08,137.41 L722.57,137.32 L723.06,137.23 L723.55,137.13 L724.04,137.04 L724.53,136.95 L725.02,136.85 L725.52,136.76 L726.01,136.66 L726.50,136.57 L726.99,136.48 L727.48,136.38 L727.97,136.29 L728.46,136.19 L728.95,136.10 L729.44,136.00 L729.93,135.91 L730.42,135.81 L730.91,135.71 L731.41,135.61 L731.90,135.52 L732.39,135.42 L732.88,135.32 L733.37,135.22 L733.86,135.12 L734.35,135.02 L734.84,134.92 L735.32,134.82 L735.81,134.72 L736.30,134.62 L736.79,134.51 L737.28,134.41 L737.77,134.31 L738.26,134.21 L738.75,134.10 L739.24,134.00 L739.73,133.90 L740.22,133.79 L740.71,133.69 L741.20,133.58 L741.68,133.48 L742.17,133.37 L742.66,133.27 L743.15,133.16 L743.64,133.06 L744.13,132.95 L744.62,132.85 L745.11,132.74 L745.59,132.63 L746.08,132.53 L746.57,132.42 L747.06,132.31 L747.54,132.20 L748.03,132.10 L748.51,131.99 L748.99,131.88 L749.47,131.78 L749.94,131.67 L750.41,131.57 L750.88,131.46 L751.34,131.36 L751.82,131.25 L752.30,131.14 L752.80,131.03 L753.32,130.91 L753.80,130.80" stroke="#000" stroke-width="1.65" fill="none" stroke-linejoin="round"/>
<path d="M548.00,312.00 L548.07,311.43 L548.14,310.89 L548.20,310.39 L548.27,309.90 L548.33,309.42 L548.39,308.94 L548.45,308.46 L548.51,307.99 L548.57,307.50 L548.63,307.02 L548.70,306.53 L548.76,306.04 L548.82,305.55 L548.89,305.05 L548.95,304.56 L549.02,304.06 L549.08,303.57 L549.15,303.07 L549.21,302.58 L549.28,302.08 L549.34,301.59 L549.41,301.09 L549.47,300.59 L549.54,300.10 L549.61,299.60 L549.67,299.11 L549.74,298.61 L549.81,298.12 L549.87,297.62 L549.94,297.13 L550.01,296.63 L550.07,296.13 L550.14,295.64 L550.21,295.14 L550.28,294.65 L550.34,294.15 L550.41,293.66 L550.48,293.16 L550.55,292.67 L550.62,292.17 L550.69,291.68 L550.76,291.18 L550.83,290.69 L550.90,290.19 L550.97,289.70 L551.04,289.20 L551.11,288.71 L551.18,288.21 L551.26,287.72 L551.33,287.22 L551.40,286.73 L551.47,286.23 L551.54,285.74 L551.62,285.24 L551.69,284.75 L551.76,284.25 L551.83,283.76 L551.91,283.26 L551.98,282.77 L552.05,282.27 L552.12,281.78 L552.19,281.29 L552.26,280.79 L552.33,280.30 L552.40,279.80 L552.47,279.31 L552.54,278.81 L552.61,278.31 L552.68,277.82 L552.75,277.32 L552.82,276.83 L552.89,276.33 L552.95,275.84 L553.02,275.34 L553.09,274.85 L553.15,274.35 L553.22,273.86 L553.28,273.36 L553.35,272.86 L553.41,272.37 L553.48,271.87 L553.54,271.38 L553.61,270.88 L553.67,270.39 L553.74,269.89 L553.80,269.39 L553.86,268.90 L553.93,268.40 L553.99,267.91 L554.06,267.41 L554.12,266.91 L554.18,266.42 L554.25,265.92 L554.31,265.43 L554.37,264.93 L554.44,264.43 L554.50,263.94 L554.56,263.44 L554.62,262.95 L554.69,262.45 L554.75,261.95 L554.81,261.46 L554.87,260.96 L554.94,260.46 L555.00,259.97 L555.06,259.47 L555.12,258.98 L555.18,258.48 L555.24,257.98 L555.30,257.48 L555.35,256.99 L555.41,256.49 L555.47,255.99 L555.53,255.49 L555.58,255.00 L555.64,254.50 L555.70,254.00 L555.75,253.50 L555.81,253.01 L555.87,252.51 L555.93,252.01 L555.99,251.52 L556.05,251.02 L556.11,250.52 L556.18,250.03 L556.24,249.53 L556.31,249.04 L556.38,248.54 L556.45,248.05 L556.52,247.55 L556.60,247.05 L556.67,246.56 L556.75,246.06 L556.83,245.57 L556.92,245.07 L557.01,244.57 L557.10,244.08 L557.20,243.58 L557.30,243.09 L557.41,242.60 L557.53,242.11 L557.66,241.63 L557.80,241.15 L557.95,240.69 L558.11,240.23 L558.29,239.78 L558.49,239.35 L558.71,238.92 L558.95,238.51 L559.21,238.11 L559.49,237.72 L559.78,237.33 L560.10,236.96 L560.43,236.60 L560.77,236.24 L561.13,235.89 L561.49,235.55 L561.86,235.21 L562.23,234.88 L562.61,234.55 L562.99,234.22 L563.38,233.90 L563.76,233.58 L564.16,233.27 L564.55,232.96 L564.95,232.66 L565.35,232.37 L565.76,232.08 L566.17,231.79 L566.58,231.51 L567.00,231.24 L567.42,230.97 L567.84,230.70 L568.26,230.44 L568.69,230.18 L569.12,229.92 L569.55,229.67 L569.99,229.42 L570.42,229.18 L570.86,228.93 L571.30,228.69 L571.73,228.45 L572.17,228.21 L572.61,227.97 L573.05,227.74 L573.49,227.50 L573.94,227.26 L574.38,227.03 L574.82,226.79 L575.26,226.55 L575.70,226.32 L576.14,226.08 L576.57,225.84 L577.01,225.60 L577.45,225.35 L577.89,225.11 L578.33,224.87 L578.76,224.63 L579.20,224.39 L579.64,224.15 L580.08,223.91 L580.52,223.68 L580.96,223.45 L581.41,223.22 L581.85,222.99 L582.30,222.76 L582.75,222.54 L583.19,222.32 L583.64,222.10 L584.09,221.88 L584.54,221.66 L584.99,221.44 L585.44,221.22 L585.89,221.00 L586.34,220.79 L586.79,220.57 L587.24,220.35 L587.69,220.13 L588.14,219.91 L588.59,219.68 L589.03,219.46 L589.48,219.23 L589.92,219.01 L590.37,218.78 L590.81,218.55 L591.26,218.32 L591.70,218.09 L592.15,217.86 L592.59,217.63 L593.03,217.40 L593.47,217.16 L593.92,216.93 L594.36,216.70 L594.80,216.47 L595.24,216.23 L595.69,216.00 L596.13,215.77 L596.57,215.53 L597.01,215.30 L597.46,215.07 L597.90,214.84 L598.34,214.61 L598.79,214.37 L599.23,214.14 L599.67,213.91 L600.12,213.68 L600.56,213.45 L601.00,213.22 L601.45,212.99 L601.89,212.76 L602.33,212.53 L602.78,212.30 L603.22,212.07 L603.67,211.84 L604.11,211.61 L604.55,211.38 L605.00,211.15 L605.44,210.92 L605.89,210.69 L606.33,210.46 L606.78,210.24 L607.22,210.01 L607.67,209.78 L608.12,209.56 L608.56,209.33 L609.01,209.11 L609.46,208.88 L609.90,208.66 L610.35,208.44 L610.80,208.22 L611.25,207.99 L611.70,207.77 L612.14,207.55 L612.59,207.33 L613.04,207.11 L613.49,206.89 L613.94,206.67 L614.39,206.46 L614.84,206.24 L615.29,206.02 L615.74,205.80 L616.19,205.58 L616.64,205.36 L617.09,205.14 L617.53,204.92 L617.98,204.69 L618.43,204.47 L618.88,204.25 L619.32,204.02 L619.77,203.80 L620.22,203.57 L620.66,203.35 L621.11,203.12 L621.55,202.90 L622.00,202.67 L622.44,202.44 L622.89,202.21 L623.33,201.98 L623.78,201.75 L624.22,201.52 L624.67,201.29 L625.11,201.06 L625.55,200.83 L626.00,200.60 L626.44,200.37 L626.89,200.14 L627.33,199.91 L627.78,199.68 L628.22,199.46 L628.66,199.23 L629.11,199.00 L629.55,198.77 L630.00,198.54 L630.44,198.31 L630.89,198.08 L631.33,197.85 L631.78,197.63 L632.22,197.40 L632.67,197.17 L633.11,196.94 L633.56,196.71 L634.00,196.48 L634.45,196.25 L634.89,196.02 L635.34,195.79 L635.78,195.57 L636.22,195.34 L636.67,195.11 L637.12,194.88 L637.56,194.65 L638.01,194.43 L638.45,194.20 L638.90,193.97 L639.34,193.75 L639.79,193.52 L640.24,193.29 L640.68,193.07 L641.13,192.85 L641.58,192.62 L642.02,192.40 L642.47,192.17 L642.92,191.95 L643.37,191.73 L643.81,191.51 L644.26,191.29 L644.71,191.07 L645.16,190.85 L645.61,190.63 L646.06,190.41 L646.51,190.20 L646.96,189.98 L647.41,189.77 L647.86,189.55 L648.31,189.34 L648.77,189.12 L649.22,188.91 L649.67,188.70 L650.12,188.49 L650.58,188.27 L651.03,188.06 L651.48,187.85 L651.94,187.64 L652.39,187.43 L652.84,187.22 L653.30,187.02 L653.75,186.81 L654.21,186.60 L654.66,186.39 L655.12,186.18 L655.57,185.98 L656.03,185.77 L656.49,185.57 L656.94,185.36 L657.40,185.16 L657.85,184.95 L658.31,184.75 L658.77,184.54 L659.22,184.34 L659.68,184.13 L660.14,183.93 L660.59,183.73 L661.05,183.53 L661.51,183.32 L661.97,183.12 L662.42,182.92 L662.88,182.72 L663.34,182.52 L663.80,182.32 L664.26,182.11 L664.71,181.91 L665.17,181.71 L665.63,181.51 L666.09,181.31 L666.55,181.11 L667.00,180.91 L667.46,180.71 L667.92,180.51 L668.38,180.31 L668.84,180.11 L669.30,179.91 L669.75,179.71 L670.21,179.51 L670.67,179.31 L671.13,179.10 L671.59,178.90 L672.04,178.70 L672.50,178.50 L672.96,178.29 L673.42,178.09 L673.87,177.88 L674.33,177.68 L674.79,177.48 L675.25,177.27 L675.70,177.07 L676.16,176.86 L676.62,176.66 L677.08,176.45 L677.54,176.25 L677.99,176.05 L678.45,175.84 L678.91,175.64 L679.37,175.44 L679.83,175.24 L680.29,175.03 L680.75,174.83 L681.21,174.63 L681.67,174.44 L682.13,174.24 L682.59,174.04 L683.05,173.85 L683.51,173.65 L683.97,173.46 L684.43,173.26 L684.89,173.07 L685.36,172.88 L685.82,172.70 L686.28,172.51 L686.75,172.32 L687.21,172.14 L687.67,171.96 L688.14,171.78 L688.61,171.60 L689.07,171.42 L689.54,171.25 L690.01,171.08 L690.48,170.91 L690.95,170.74 L691.42,170.58 L691.89,170.41 L692.36,170.25 L692.83,170.09 L693.30,169.94 L693.78,169.78 L694.25,169.63 L694.73,169.48 L695.20,169.33 L695.68,169.19 L696.16,169.05 L696.64,168.91 L697.12,168.77 L697.60,168.63 L698.08,168.49 L698.56,168.36 L699.04,168.22 L699.53,168.09 L700.01,167.96 L700.49,167.82 L700.97,167.69 L701.46,167.56 L701.94,167.43 L702.42,167.29 L702.90,167.16 L703.39,167.02 L703.87,166.89 L704.35,166.75 L704.83,166.62 L705.31,166.48 L705.79,166.34 L706.27,166.20 L706.75,166.06 L707.23,165.92 L707.71,165.78 L708.19,165.64 L708.67,165.50 L709.15,165.35 L709.63,165.21 L710.11,165.07 L710.59,164.93 L711.07,164.79 L711.55,164.65 L712.03,164.51 L712.51,164.37 L712.99,164.23 L713.47,164.10 L713.96,163.97 L714.44,163.84 L714.92,163.71 L715.40,163.58 L715.89,163.45 L716.37,163.33 L716.86,163.20 L717.34,163.08 L717.83,162.96 L718.31,162.85 L718.80,162.73 L719.28,162.62 L719.77,162.50 L720.26,162.39 L720.74,162.28 L721.23,162.17 L721.72,162.05 L722.21,161.95 L722.70,161.84 L723.18,161.73 L723.67,161.62 L724.16,161.51 L724.65,161.40 L725.14,161.30 L725.63,161.19 L726.11,161.08 L726.60,160.97 L727.09,160.86 L727.58,160.76 L728.07,160.65 L728.56,160.54 L729.04,160.43 L729.53,160.32 L730.02,160.20 L730.51,160.09 L730.99,159.98 L731.48,159.87 L731.97,159.75 L732.45,159.64 L732.94,159.52 L733.43,159.41 L733.91,159.29 L734.40,159.17 L734.88,159.06 L735.37,158.94 L735.86,158.82 L736.34,158.70 L736.83,158.59 L737.31,158.47 L737.80,158.35 L738.29,158.23 L738.77,158.11 L739.26,157.99 L739.74,157.87 L740.23,157.75 L740.71,157.63 L741.20,157.51 L741.68,157.39 L742.17,157.27 L742.65,157.15 L743.14,157.03 L743.62,156.91 L744.11,156.79 L744.59,156.66 L745.08,156.54 L745.56,156.42 L746.05,156.30 L746.53,156.17 L747.02,156.05 L747.50,155.93 L747.98,155.80 L748.46,155.68 L748.94,155.56 L749.41,155.44 L749.87,155.32 L750.34,155.20 L750.80,155.08 L751.26,154.96 L751.72,154.84 L752.18,154.72 L752.66,154.60 L753.17,154.47 L753.70,154.33 L753.80,154.30" stroke="#000" stroke-width="1.65" fill="none" stroke-linejoin="round"/>
<path d="M548.00,312.00 L548.06,311.43 L548.12,310.89 L548.18,310.38 L548.24,309.89 L548.30,309.41 L548.35,308.94 L548.41,308.46 L548.47,307.98 L548.53,307.50 L548.59,307.01 L548.65,306.52 L548.71,306.03 L548.77,305.54 L548.84,305.05 L548.90,304.55 L548.96,304.06 L549.03,303.56 L549.09,303.06 L549.16,302.57 L549.22,302.07 L549.29,301.58 L549.36,301.08 L549.42,300.59 L549.49,300.09 L549.56,299.60 L549.63,299.10 L549.70,298.60 L549.77,298.11 L549.84,297.61 L549.91,297.12 L549.98,296.63 L550.05,296.13 L550.12,295.64 L550.19,295.14 L550.26,294.65 L550.34,294.15 L550.41,293.66 L550.48,293.16 L550.56,292.67 L550.63,292.17 L550.71,291.68 L550.78,291.19 L550.86,290.69 L550.94,290.20 L551.02,289.70 L551.10,289.21 L551.18,288.72 L551.26,288.22 L551.34,287.73 L551.42,287.24 L551.50,286.74 L551.58,286.25 L551.67,285.76 L551.75,285.26 L551.84,284.77 L551.92,284.28 L552.01,283.79 L552.10,283.29 L552.18,282.80 L552.27,282.31 L552.36,281.82 L552.45,281.33 L552.54,280.83 L552.63,280.34 L552.72,279.85 L552.81,279.36 L552.90,278.87 L553.00,278.38 L553.09,277.88 L553.19,277.39 L553.28,276.90 L553.38,276.41 L553.48,275.92 L553.58,275.43 L553.68,274.94 L553.78,274.45 L553.88,273.96 L553.98,273.47 L554.08,272.98 L554.19,272.49 L554.29,272.01 L554.40,271.52 L554.51,271.03 L554.61,270.54 L554.72,270.05 L554.83,269.56 L554.94,269.08 L555.06,268.59 L555.17,268.10 L555.28,267.61 L555.40,267.13 L555.52,266.64 L555.64,266.15 L555.76,265.67 L555.88,265.18 L556.00,264.70 L556.13,264.21 L556.26,263.73 L556.39,263.25 L556.52,262.77 L556.66,262.29 L556.80,261.81 L556.94,261.33 L557.09,260.85 L557.24,260.37 L557.39,259.90 L557.54,259.42 L557.70,258.95 L557.86,258.47 L558.03,258.00 L558.20,257.53 L558.37,257.06 L558.55,256.59 L558.73,256.12 L558.91,255.66 L559.10,255.20 L559.30,254.74 L559.50,254.28 L559.71,253.83 L559.92,253.38 L560.14,252.93 L560.36,252.48 L560.59,252.04 L560.83,251.60 L561.07,251.17 L561.32,250.74 L561.58,250.31 L561.84,249.89 L562.11,249.47 L562.39,249.05 L562.67,248.64 L562.96,248.24 L563.26,247.83 L563.56,247.44 L563.87,247.04 L564.18,246.65 L564.49,246.26 L564.81,245.88 L565.13,245.49 L565.45,245.11 L565.78,244.73 L566.10,244.34 L566.43,243.96 L566.75,243.58 L567.08,243.20 L567.41,242.82 L567.74,242.45 L568.07,242.07 L568.41,241.71 L568.75,241.34 L569.09,240.98 L569.44,240.63 L569.79,240.28 L570.16,239.94 L570.52,239.60 L570.90,239.28 L571.28,238.96 L571.67,238.65 L572.06,238.34 L572.46,238.04 L572.86,237.75 L573.27,237.47 L573.69,237.19 L574.11,236.91 L574.53,236.65 L574.95,236.39 L575.39,236.14 L575.82,235.89 L576.26,235.65 L576.70,235.41 L577.14,235.18 L577.59,234.96 L578.03,234.74 L578.49,234.52 L578.94,234.31 L579.39,234.10 L579.85,233.90 L580.31,233.70 L580.77,233.51 L581.23,233.32 L581.70,233.13 L582.16,232.95 L582.63,232.76 L583.09,232.58 L583.56,232.41 L584.03,232.23 L584.50,232.06 L584.97,231.89 L585.45,231.73 L585.92,231.57 L586.39,231.41 L586.87,231.25 L587.34,231.10 L587.82,230.94 L588.30,230.80 L588.78,230.65 L589.26,230.51 L589.74,230.37 L590.22,230.24 L590.70,230.10 L591.18,229.97 L591.66,229.85 L592.15,229.72 L592.63,229.60 L593.12,229.48 L593.60,229.36 L594.09,229.25 L594.58,229.14 L595.06,229.02 L595.55,228.91 L596.04,228.81 L596.53,228.70 L597.02,228.59 L597.51,228.49 L598.00,228.38 L598.49,228.28 L598.98,228.18 L599.47,228.08 L599.96,227.98 L600.45,227.88 L600.94,227.78 L601.43,227.68 L601.92,227.58 L602.41,227.48 L602.90,227.38 L603.39,227.28 L603.88,227.19 L604.37,227.09 L604.86,227.00 L605.35,226.90 L605.84,226.81 L606.34,226.72 L606.83,226.63 L607.32,226.54 L607.81,226.46 L608.30,226.37 L608.80,226.28 L609.29,226.20 L609.78,226.12 L610.28,226.04 L610.77,225.96 L611.26,225.88 L611.76,225.81 L612.25,225.73 L612.75,225.66 L613.24,225.58 L613.74,225.51 L614.23,225.44 L614.73,225.37 L615.22,225.30 L615.72,225.23 L616.21,225.17 L616.71,225.10 L617.20,225.03 L617.70,224.97 L618.19,224.90 L618.69,224.84 L619.19,224.77 L619.68,224.71 L620.18,224.65 L620.67,224.58 L621.17,224.52 L621.67,224.46 L622.16,224.40 L622.66,224.33 L623.15,224.27 L623.65,224.21 L624.15,224.15 L624.64,224.09 L625.14,224.03 L625.64,223.97 L626.13,223.91 L626.63,223.86 L627.13,223.80 L627.62,223.74 L628.12,223.68 L628.62,223.62 L629.11,223.56 L629.61,223.51 L630.11,223.45 L630.60,223.39 L631.10,223.33 L631.60,223.27 L632.09,223.22 L632.59,223.16 L633.09,223.10 L633.58,223.05 L634.08,222.99 L634.58,222.93 L635.07,222.87 L635.57,222.82 L636.07,222.76 L636.56,222.70 L637.06,222.64 L637.56,222.59 L638.05,222.53 L638.55,222.47 L639.05,222.41 L639.54,222.35 L640.04,222.28 L640.53,222.22 L641.03,222.16 L641.53,222.10 L642.02,222.03 L642.52,221.97 L643.01,221.90 L643.51,221.84 L644.01,221.77 L644.50,221.70 L645.00,221.64 L645.49,221.57 L645.99,221.50 L646.48,221.44 L646.98,221.37 L647.47,221.30 L647.97,221.24 L648.47,221.17 L648.96,221.10 L649.46,221.04 L649.95,220.98 L650.45,220.91 L650.94,220.85 L651.44,220.79 L651.94,220.73 L652.43,220.67 L652.93,220.61 L653.43,220.55 L653.92,220.49 L654.42,220.44 L654.92,220.38 L655.41,220.33 L655.91,220.27 L656.41,220.22 L656.90,220.17 L657.40,220.11 L657.90,220.06 L658.40,220.01 L658.89,219.96 L659.39,219.91 L659.89,219.86 L660.39,219.81 L660.88,219.76 L661.38,219.71 L661.88,219.66 L662.38,219.61 L662.87,219.56 L663.37,219.51 L663.87,219.46 L664.37,219.42 L664.86,219.37 L665.36,219.32 L665.86,219.27 L666.36,219.22 L666.86,219.17 L667.35,219.12 L667.85,219.07 L668.35,219.02 L668.85,218.97 L669.34,218.92 L669.84,218.87 L670.34,218.82 L670.84,218.77 L671.33,218.72 L671.83,218.67 L672.33,218.62 L672.83,218.57 L673.32,218.52 L673.82,218.47 L674.32,218.42 L674.81,218.37 L675.31,218.32 L675.81,218.26 L676.31,218.21 L676.80,218.16 L677.30,218.11 L677.80,218.06 L678.30,218.01 L678.79,217.96 L679.29,217.91 L679.79,217.85 L680.29,217.80 L680.78,217.75 L681.28,217.70 L681.78,217.65 L682.28,217.60 L682.77,217.55 L683.27,217.50 L683.77,217.45 L684.27,217.40 L684.76,217.35 L685.26,217.30 L685.76,217.25 L686.26,217.20 L686.75,217.15 L687.25,217.10 L687.75,217.05 L688.25,217.00 L688.74,216.95 L689.24,216.90 L689.74,216.85 L690.24,216.80 L690.73,216.75 L691.23,216.70 L691.73,216.65 L692.23,216.60 L692.72,216.56 L693.22,216.51 L693.72,216.46 L694.22,216.41 L694.71,216.36 L695.21,216.31 L695.71,216.26 L696.21,216.22 L696.70,216.17 L697.20,216.12 L697.70,216.07 L698.20,216.02 L698.70,215.98 L699.19,215.93 L699.69,215.88 L700.19,215.83 L700.69,215.79 L701.18,215.74 L701.68,215.69 L702.18,215.64 L702.68,215.60 L703.18,215.55 L703.67,215.50 L704.17,215.46 L704.67,215.41 L705.17,215.36 L705.66,215.32 L706.16,215.27 L706.66,215.22 L707.16,215.18 L707.66,215.13 L708.15,215.09 L708.65,215.04 L709.15,215.00 L709.65,214.95 L710.15,214.91 L710.64,214.86 L711.14,214.81 L711.64,214.77 L712.14,214.72 L712.64,214.67 L713.13,214.63 L713.63,214.58 L714.13,214.53 L714.62,214.48 L715.12,214.42 L715.62,214.37 L716.12,214.32 L716.61,214.26 L717.11,214.21 L717.61,214.15 L718.10,214.09 L718.60,214.03 L719.10,213.97 L719.59,213.91 L720.09,213.84 L720.58,213.78 L721.08,213.72 L721.58,213.65 L722.07,213.59 L722.57,213.52 L723.06,213.46 L723.56,213.39 L724.05,213.32 L724.55,213.26 L725.05,213.19 L725.54,213.13 L726.04,213.06 L726.53,213.00 L727.03,212.93 L727.53,212.87 L728.02,212.81 L728.52,212.75 L729.01,212.69 L729.51,212.63 L730.01,212.57 L730.50,212.51 L731.00,212.45 L731.50,212.40 L731.99,212.35 L732.49,212.29 L732.99,212.24 L733.49,212.19 L733.98,212.14 L734.48,212.09 L734.98,212.04 L735.47,211.99 L735.97,211.94 L736.47,211.89 L736.97,211.84 L737.46,211.79 L737.96,211.75 L738.46,211.70 L738.96,211.65 L739.46,211.61 L739.95,211.56 L740.45,211.52 L740.95,211.47 L741.45,211.43 L741.95,211.38 L742.44,211.34 L742.94,211.30 L743.44,211.26 L743.94,211.21 L744.44,211.17 L744.93,211.13 L745.43,211.09 L745.93,211.05 L746.43,211.01 L746.93,210.97 L747.42,210.93 L747.92,210.90 L748.41,210.86 L748.89,210.82 L749.37,210.79 L749.85,210.75 L750.33,210.72 L750.80,210.68 L751.28,210.65 L751.76,210.61 L752.25,210.58 L752.77,210.55 L753.32,210.51 L753.50,210.50" stroke="#000" stroke-width="1.65" fill="none" stroke-linejoin="round"/>
<path d="M715.9,133.8 L720.9,138.8 L715.9,143.8 L710.9,138.8 Z" fill="#000"/>
<rect x="711" y="158.6" width="9.8" height="9.8" fill="#000"/>
<path d="M715.5,209.8 L720.5,218 L710.5,218 Z" fill="#000"/>
<path d="M772.60,312.00 L772.64,311.43 L772.69,310.89 L772.72,310.38 L772.76,309.89 L772.80,309.40 L772.84,308.93 L772.87,308.45 L772.91,307.97 L772.95,307.48 L772.98,306.99 L773.02,306.50 L773.06,306.01 L773.09,305.52 L773.13,305.02 L773.17,304.52 L773.20,304.02 L773.24,303.52 L773.28,303.03 L773.31,302.53 L773.35,302.03 L773.39,301.53 L773.42,301.03 L773.46,300.53 L773.49,300.03 L773.53,299.53 L773.56,299.04 L773.60,298.54 L773.63,298.04 L773.66,297.54 L773.70,297.04 L773.73,296.54 L773.76,296.04 L773.79,295.54 L773.83,295.04 L773.86,294.54 L773.89,294.04 L773.92,293.55 L773.96,293.05 L773.99,292.55 L774.02,292.05 L774.06,291.55 L774.09,291.05 L774.12,290.55 L774.16,290.05 L774.20,289.55 L774.23,289.06 L774.27,288.56 L774.31,288.06 L774.35,287.56 L774.39,287.06 L774.43,286.57 L774.48,286.07 L774.52,285.57 L774.57,285.07 L774.62,284.58 L774.67,284.08 L774.72,283.58 L774.77,283.09 L774.83,282.59 L774.89,282.09 L774.94,281.60 L775.00,281.10 L775.06,280.60 L775.13,280.11 L775.19,279.61 L775.25,279.12 L775.32,278.62 L775.38,278.12 L775.45,277.63 L775.52,277.13 L775.59,276.64 L775.65,276.14 L775.72,275.65 L775.79,275.15 L775.86,274.65 L775.93,274.16 L776.00,273.66 L776.06,273.17 L776.13,272.67 L776.20,272.18 L776.27,271.68 L776.34,271.19 L776.40,270.69 L776.47,270.19 L776.54,269.70 L776.60,269.20 L776.67,268.71 L776.73,268.21 L776.80,267.72 L776.87,267.22 L776.93,266.72 L777.00,266.23 L777.06,265.73 L777.13,265.24 L777.19,264.74 L777.26,264.25 L777.33,263.75 L777.39,263.25 L777.46,262.76 L777.52,262.26 L777.59,261.77 L777.66,261.27 L777.72,260.78 L777.79,260.28 L777.86,259.79 L777.92,259.29 L777.99,258.79 L778.06,258.30 L778.12,257.80 L778.19,257.31 L778.26,256.81 L778.32,256.32 L778.39,255.82 L778.46,255.33 L778.52,254.83 L778.59,254.34 L778.66,253.84 L778.73,253.34 L778.79,252.85 L778.86,252.35 L778.93,251.86 L779.00,251.36 L779.06,250.87 L779.13,250.37 L779.20,249.88 L779.27,249.38 L779.33,248.89 L779.40,248.39 L779.47,247.89 L779.54,247.40 L779.60,246.90 L779.67,246.41 L779.74,245.91 L779.81,245.42 L779.88,244.92 L779.94,244.43 L780.01,243.93 L780.08,243.44 L780.15,242.94 L780.22,242.45 L780.29,241.95 L780.36,241.46 L780.43,240.96 L780.50,240.47 L780.57,239.97 L780.64,239.48 L780.71,238.98 L780.79,238.49 L780.86,237.99 L780.93,237.50 L781.00,237.00 L781.08,236.51 L781.15,236.01 L781.23,235.52 L781.30,235.02 L781.38,234.53 L781.45,234.04 L781.53,233.54 L781.60,233.05 L781.68,232.55 L781.76,232.06 L781.83,231.57 L781.91,231.07 L781.99,230.58 L782.06,230.08 L782.14,229.59 L782.22,229.10 L782.30,228.60 L782.38,228.11 L782.46,227.61 L782.54,227.12 L782.62,226.63 L782.70,226.13 L782.78,225.64 L782.86,225.15 L782.94,224.65 L783.02,224.16 L783.10,223.67 L783.18,223.17 L783.26,222.68 L783.34,222.19 L783.42,221.69 L783.50,221.20 L783.58,220.71 L783.67,220.21 L783.75,219.72 L783.83,219.23 L783.91,218.73 L783.99,218.24 L784.08,217.75 L784.16,217.25 L784.24,216.76 L784.33,216.27 L784.41,215.77 L784.49,215.28 L784.57,214.79 L784.66,214.29 L784.74,213.80 L784.83,213.31 L784.91,212.82 L784.99,212.32 L785.08,211.83 L785.16,211.34 L785.25,210.84 L785.33,210.35 L785.42,209.86 L785.50,209.37 L785.59,208.87 L785.68,208.38 L785.76,207.89 L785.85,207.40 L785.94,206.90 L786.03,206.41 L786.11,205.92 L786.20,205.43 L786.29,204.93 L786.38,204.44 L786.47,203.95 L786.56,203.46 L786.65,202.97 L786.74,202.48 L786.83,201.98 L786.92,201.49 L787.01,201.00 L787.10,200.51 L787.19,200.02 L787.29,199.53 L787.38,199.04 L787.47,198.54 L787.57,198.05 L787.66,197.56 L787.75,197.07 L787.85,196.58 L787.94,196.09 L788.04,195.60 L788.13,195.11 L788.23,194.62 L788.32,194.12 L788.42,193.63 L788.52,193.14 L788.61,192.65 L788.71,192.16 L788.81,191.67 L788.91,191.18 L789.01,190.69 L789.10,190.20 L789.20,189.71 L789.30,189.22 L789.40,188.73 L789.50,188.24 L789.61,187.75 L789.71,187.26 L789.81,186.77 L789.91,186.28 L790.01,185.79 L790.12,185.30 L790.22,184.81 L790.33,184.33 L790.43,183.84 L790.54,183.35 L790.64,182.86 L790.75,182.37 L790.86,181.88 L790.96,181.40 L791.07,180.91 L791.18,180.42 L791.29,179.93 L791.40,179.44 L791.51,178.96 L791.63,178.47 L791.74,177.98 L791.85,177.50 L791.97,177.01 L792.08,176.52 L792.20,176.04 L792.31,175.55 L792.43,175.06 L792.55,174.58 L792.66,174.09 L792.78,173.61 L792.90,173.12 L793.02,172.64 L793.14,172.15 L793.26,171.67 L793.38,171.18 L793.50,170.70 L793.63,170.21 L793.75,169.73 L793.87,169.24 L793.99,168.76 L794.12,168.27 L794.24,167.79 L794.37,167.30 L794.49,166.82 L794.61,166.33 L794.74,165.85 L794.86,165.36 L794.99,164.88 L795.11,164.40 L795.24,163.91 L795.36,163.43 L795.49,162.94 L795.61,162.46 L795.74,161.97 L795.86,161.49 L795.99,161.01 L796.11,160.52 L796.24,160.04 L796.36,159.55 L796.49,159.07 L796.61,158.58 L796.74,158.10 L796.86,157.61 L796.98,157.13 L797.11,156.64 L797.23,156.16 L797.35,155.67 L797.47,155.19 L797.60,154.70 L797.72,154.22 L797.84,153.73 L797.97,153.25 L798.09,152.76 L798.21,152.27 L798.34,151.79 L798.46,151.30 L798.59,150.82 L798.71,150.33 L798.84,149.85 L798.96,149.36 L799.09,148.88 L799.22,148.40 L799.34,147.91 L799.47,147.43 L799.60,146.94 L799.73,146.46 L799.86,145.98 L800.00,145.50 L800.13,145.02 L800.26,144.53 L800.40,144.05 L800.53,143.57 L800.67,143.09 L800.81,142.61 L800.95,142.13 L801.09,141.65 L801.23,141.18 L801.38,140.70 L801.52,140.22 L801.67,139.74 L801.82,139.27 L801.97,138.79 L802.12,138.32 L802.27,137.84 L802.43,137.37 L802.58,136.89 L802.74,136.42 L802.90,135.95 L803.06,135.47 L803.22,135.00 L803.39,134.52 L803.55,134.05 L803.72,133.58 L803.89,133.11 L804.06,132.64 L804.23,132.16 L804.41,131.69 L804.58,131.22 L804.76,130.76 L804.94,130.29 L805.12,129.82 L805.31,129.35 L805.49,128.89 L805.68,128.42 L805.87,127.96 L806.06,127.49 L806.25,127.03 L806.45,126.57 L806.64,126.11 L806.84,125.65 L807.04,125.20 L807.25,124.74 L807.45,124.29 L807.66,123.84 L807.87,123.39 L808.09,122.93 L808.30,122.49 L808.52,122.04 L808.74,121.59 L808.97,121.15 L809.20,120.70 L809.43,120.26 L809.66,119.82 L809.90,119.38 L810.15,118.94 L810.39,118.50 L810.64,118.07 L810.89,117.63 L811.15,117.20 L811.40,116.77 L811.67,116.34 L811.93,115.91 L812.20,115.49 L812.47,115.07 L812.74,114.65 L813.02,114.23 L813.30,113.82 L813.58,113.41 L813.86,113.00 L814.15,112.60 L814.44,112.19 L814.74,111.79 L815.04,111.39 L815.34,111.00 L815.65,110.60 L815.96,110.21 L816.27,109.82 L816.59,109.43 L816.91,109.05 L817.23,108.67 L817.56,108.29 L817.89,107.91 L818.22,107.53 L818.56,107.16 L818.90,106.79 L819.24,106.42 L819.58,106.06 L819.93,105.69 L820.28,105.34 L820.63,104.98 L820.99,104.63 L821.34,104.28 L821.70,103.93 L822.06,103.58 L822.42,103.24 L822.79,102.90 L823.16,102.57 L823.53,102.23 L823.91,101.90 L824.28,101.58 L824.66,101.25 L825.05,100.93 L825.43,100.61 L825.82,100.29 L826.21,99.98 L826.61,99.67 L827.00,99.36 L827.40,99.06 L827.80,98.76 L828.20,98.46 L828.61,98.17 L829.02,97.88 L829.43,97.59 L829.84,97.31 L830.25,97.03 L830.67,96.76 L831.08,96.48 L831.50,96.22 L831.93,95.95 L832.35,95.69 L832.78,95.43 L833.20,95.18 L833.64,94.92 L834.07,94.67 L834.50,94.43 L834.94,94.18 L835.38,93.94 L835.81,93.69 L836.25,93.45 L836.69,93.22 L837.14,92.98 L837.58,92.74 L838.02,92.51 L838.46,92.27 L838.91,92.03 L839.35,91.80 L839.79,91.57 L840.24,91.33 L840.68,91.10 L841.12,90.86 L841.57,90.63 L842.01,90.40 L842.45,90.16 L842.90,89.93 L843.34,89.71 L843.79,89.48 L844.24,89.26 L844.69,89.04 L845.14,88.83 L845.59,88.62 L846.05,88.42 L846.51,88.22 L846.97,88.03 L847.43,87.85 L847.89,87.67 L848.36,87.50 L848.83,87.34 L849.30,87.17 L849.78,87.02 L850.25,86.87 L850.73,86.72 L851.21,86.57 L851.69,86.43 L852.17,86.29 L852.65,86.15 L853.13,86.01 L853.61,85.88 L854.09,85.74 L854.58,85.61 L855.06,85.47 L855.54,85.34 L856.03,85.21 L856.51,85.08 L856.99,84.95 L857.48,84.82 L857.96,84.69 L858.44,84.57 L858.93,84.44 L859.41,84.33 L859.90,84.21 L860.39,84.10 L860.88,83.99 L861.36,83.89 L861.85,83.79 L862.34,83.69 L862.83,83.60 L863.32,83.51 L863.82,83.42 L864.31,83.34 L864.80,83.26 L865.29,83.18 L865.79,83.10 L866.28,83.03 L866.78,82.96 L867.27,82.88 L867.77,82.81 L868.26,82.75 L868.76,82.68 L869.26,82.61 L869.75,82.54 L870.25,82.48 L870.74,82.41 L871.24,82.34 L871.74,82.28 L872.23,82.22 L872.73,82.16 L873.22,82.09 L873.72,82.04 L874.22,81.98 L874.71,81.92 L875.21,81.87 L875.71,81.82 L876.21,81.77 L876.70,81.72 L877.20,81.68 L877.70,81.63 L878.20,81.59 L878.69,81.55 L879.19,81.51 L879.69,81.47 L880.19,81.44 L880.69,81.40 L881.19,81.36 L881.69,81.32 L882.18,81.29 L882.68,81.25 L883.18,81.21 L883.68,81.17 L884.18,81.13 L884.68,81.09 L885.17,81.04 L885.67,81.00 L886.17,80.96 L886.67,80.91 L887.17,80.87 L887.66,80.82 L888.16,80.77 L888.66,80.72 L889.16,80.67 L889.66,80.63 L890.15,80.58 L890.65,80.53 L891.15,80.48 L891.65,80.43 L892.14,80.38 L892.64,80.33 L893.14,80.29 L893.64,80.24 L894.14,80.19 L894.63,80.15 L895.13,80.10 L895.63,80.06 L896.13,80.01 L896.63,79.97 L897.12,79.93 L897.62,79.89 L898.12,79.85 L898.62,79.81 L899.12,79.77 L899.62,79.73 L900.11,79.69 L900.61,79.66 L901.11,79.62 L901.61,79.58 L902.11,79.55 L902.61,79.51 L903.11,79.48 L903.61,79.45 L904.10,79.41 L904.60,79.38 L905.10,79.35 L905.60,79.31 L906.10,79.28 L906.60,79.25 L907.10,79.22 L907.60,79.19 L908.10,79.16 L908.60,79.13 L909.10,79.11 L909.59,79.08 L910.09,79.05 L910.59,79.03 L911.09,79.00 L911.59,78.98 L912.09,78.96 L912.59,78.93 L913.09,78.91 L913.59,78.89 L914.09,78.87 L914.59,78.85 L915.09,78.83 L915.59,78.81 L916.09,78.79 L916.59,78.77 L917.09,78.75 L917.59,78.74 L918.09,78.72 L918.58,78.70 L919.08,78.68 L919.58,78.67 L920.08,78.65 L920.58,78.63 L921.08,78.62 L921.58,78.60 L922.08,78.58 L922.58,78.57 L923.08,78.55 L923.58,78.54 L924.08,78.52 L924.58,78.50 L925.08,78.49 L925.58,78.47 L926.08,78.46 L926.58,78.45 L927.08,78.43 L927.58,78.42 L928.08,78.40 L928.58,78.39 L929.08,78.38 L929.58,78.36 L930.08,78.35 L930.58,78.34 L931.08,78.33 L931.58,78.31 L932.08,78.30 L932.58,78.29 L933.08,78.28 L933.58,78.27 L934.08,78.26 L934.58,78.25 L935.08,78.23 L935.58,78.22 L936.08,78.21 L936.58,78.20 L937.08,78.19 L937.58,78.18 L938.08,78.18 L938.58,78.17 L939.08,78.16 L939.58,78.15 L940.08,78.14 L940.58,78.13 L941.08,78.12 L941.58,78.12 L942.08,78.11 L942.58,78.10 L943.08,78.09 L943.58,78.09 L944.08,78.08 L944.58,78.07 L945.08,78.06 L945.58,78.06 L946.08,78.05 L946.58,78.04 L947.08,78.04 L947.58,78.03 L948.08,78.02 L948.58,78.01 L949.08,78.01 L949.58,78.00 L950.08,77.99 L950.58,77.99 L951.08,77.98 L951.58,77.97 L952.08,77.97 L952.58,77.96 L953.08,77.96 L953.58,77.95 L954.08,77.94 L954.58,77.94 L955.08,77.93 L955.58,77.93 L956.08,77.92 L956.58,77.91 L957.08,77.91 L957.58,77.90 L958.08,77.90 L958.58,77.89 L959.08,77.89 L959.58,77.88 L960.08,77.88 L960.58,77.87 L961.08,77.87 L961.58,77.86 L962.08,77.86 L962.58,77.85 L963.08,77.85 L963.58,77.85 L964.08,77.84 L964.58,77.84 L965.08,77.84 L965.58,77.83 L966.08,77.83 L966.58,77.83 L967.07,77.82 L967.57,77.82 L968.07,77.82 L968.56,77.82 L969.04,77.81 L969.53,77.81 L970.01,77.81 L970.48,77.81 L970.96,77.81 L971.43,77.80 L971.91,77.80 L972.41,77.80 L972.93,77.80 L973.48,77.80 L973.60,77.80" stroke="#000" stroke-width="1.65" fill="none" stroke-linejoin="round"/>
<path d="M772.60,312.00 L772.64,311.42 L772.69,310.89 L772.73,310.38 L772.77,309.89 L772.81,309.40 L772.85,308.93 L772.90,308.45 L772.94,307.97 L772.99,307.48 L773.03,307.00 L773.08,306.51 L773.13,306.01 L773.18,305.52 L773.23,305.02 L773.28,304.53 L773.33,304.03 L773.38,303.53 L773.43,303.04 L773.49,302.54 L773.54,302.04 L773.60,301.54 L773.65,301.05 L773.71,300.55 L773.76,300.05 L773.82,299.56 L773.88,299.06 L773.94,298.57 L774.00,298.07 L774.06,297.57 L774.12,297.08 L774.18,296.58 L774.25,296.08 L774.31,295.59 L774.38,295.09 L774.44,294.60 L774.51,294.10 L774.58,293.60 L774.64,293.11 L774.71,292.61 L774.78,292.12 L774.86,291.62 L774.93,291.12 L775.00,290.63 L775.08,290.13 L775.16,289.64 L775.23,289.15 L775.31,288.65 L775.40,288.16 L775.48,287.67 L775.56,287.17 L775.65,286.68 L775.74,286.19 L775.83,285.70 L775.92,285.21 L776.01,284.72 L776.11,284.23 L776.21,283.74 L776.31,283.25 L776.42,282.76 L776.53,282.28 L776.64,281.79 L776.76,281.31 L776.88,280.82 L777.00,280.34 L777.13,279.86 L777.26,279.37 L777.39,278.89 L777.52,278.41 L777.66,277.93 L777.80,277.45 L777.93,276.96 L778.07,276.48 L778.21,276.00 L778.35,275.52 L778.49,275.04 L778.63,274.56 L778.77,274.08 L778.91,273.60 L779.04,273.12 L779.18,272.64 L779.32,272.16 L779.46,271.67 L779.60,271.19 L779.73,270.71 L779.87,270.23 L780.01,269.75 L780.15,269.27 L780.29,268.79 L780.43,268.31 L780.58,267.83 L780.72,267.35 L780.86,266.88 L781.01,266.40 L781.16,265.92 L781.31,265.44 L781.46,264.97 L781.61,264.49 L781.76,264.01 L781.91,263.54 L782.07,263.06 L782.23,262.59 L782.38,262.11 L782.54,261.64 L782.70,261.17 L782.86,260.69 L783.02,260.22 L783.19,259.75 L783.35,259.27 L783.52,258.80 L783.68,258.33 L783.85,257.86 L784.02,257.39 L784.18,256.92 L784.35,256.45 L784.52,255.98 L784.69,255.51 L784.87,255.04 L785.04,254.57 L785.21,254.10 L785.39,253.63 L785.56,253.16 L785.74,252.69 L785.92,252.23 L786.09,251.76 L786.27,251.29 L786.45,250.82 L786.62,250.36 L786.80,249.89 L786.98,249.42 L787.15,248.95 L787.33,248.48 L787.51,248.02 L787.68,247.55 L787.85,247.08 L788.03,246.61 L788.20,246.14 L788.37,245.67 L788.55,245.20 L788.72,244.73 L788.89,244.26 L789.07,243.79 L789.24,243.33 L789.42,242.86 L789.60,242.39 L789.78,241.92 L789.96,241.46 L790.14,241.00 L790.33,240.53 L790.52,240.07 L790.71,239.61 L790.91,239.15 L791.11,238.69 L791.31,238.23 L791.51,237.78 L791.72,237.32 L791.92,236.87 L792.13,236.41 L792.34,235.96 L792.55,235.50 L792.76,235.05 L792.97,234.60 L793.18,234.14 L793.38,233.69 L793.59,233.23 L793.79,232.77 L794.00,232.32 L794.20,231.86 L794.40,231.40 L794.60,230.94 L794.80,230.48 L794.99,230.02 L795.19,229.56 L795.38,229.10 L795.58,228.64 L795.77,228.18 L795.96,227.72 L796.16,227.26 L796.35,226.80 L796.54,226.33 L796.73,225.87 L796.92,225.41 L797.12,224.95 L797.31,224.49 L797.50,224.03 L797.69,223.56 L797.89,223.10 L798.08,222.64 L798.28,222.18 L798.47,221.72 L798.67,221.26 L798.86,220.80 L799.06,220.34 L799.26,219.88 L799.46,219.42 L799.66,218.97 L799.86,218.51 L800.06,218.05 L800.26,217.59 L800.46,217.13 L800.66,216.67 L800.86,216.22 L801.06,215.76 L801.26,215.30 L801.47,214.84 L801.67,214.38 L801.87,213.93 L802.08,213.47 L802.28,213.01 L802.49,212.56 L802.69,212.10 L802.90,211.65 L803.11,211.19 L803.32,210.74 L803.53,210.28 L803.74,209.83 L803.95,209.38 L804.16,208.92 L804.37,208.47 L804.59,208.02 L804.81,207.57 L805.02,207.12 L805.24,206.67 L805.46,206.22 L805.68,205.77 L805.90,205.33 L806.13,204.88 L806.35,204.43 L806.58,203.99 L806.81,203.54 L807.03,203.10 L807.26,202.65 L807.49,202.21 L807.73,201.77 L807.96,201.32 L808.19,200.88 L808.43,200.44 L808.67,200.00 L808.91,199.56 L809.14,199.12 L809.39,198.68 L809.63,198.24 L809.87,197.80 L810.12,197.36 L810.36,196.93 L810.61,196.49 L810.86,196.06 L811.11,195.62 L811.36,195.19 L811.62,194.76 L811.87,194.33 L812.13,193.90 L812.39,193.47 L812.65,193.05 L812.91,192.62 L813.18,192.20 L813.44,191.78 L813.71,191.36 L813.98,190.94 L814.25,190.52 L814.53,190.11 L814.80,189.69 L815.08,189.27 L815.36,188.86 L815.64,188.45 L815.92,188.04 L816.21,187.62 L816.50,187.21 L816.79,186.81 L817.08,186.40 L817.37,185.99 L817.67,185.58 L817.96,185.18 L818.26,184.78 L818.56,184.37 L818.87,183.97 L819.17,183.57 L819.48,183.18 L819.79,182.78 L820.10,182.38 L820.41,181.99 L820.73,181.60 L821.04,181.21 L821.36,180.83 L821.68,180.44 L822.00,180.06 L822.33,179.68 L822.65,179.30 L822.98,178.93 L823.31,178.56 L823.64,178.18 L823.98,177.81 L824.31,177.45 L824.65,177.08 L824.99,176.72 L825.33,176.36 L825.68,176.00 L826.03,175.64 L826.38,175.28 L826.73,174.93 L827.09,174.57 L827.45,174.22 L827.81,173.87 L828.17,173.52 L828.54,173.18 L828.91,172.84 L829.28,172.50 L829.65,172.16 L830.03,171.83 L830.40,171.50 L830.78,171.17 L831.17,170.85 L831.55,170.53 L831.94,170.21 L832.33,169.90 L832.73,169.60 L833.12,169.30 L833.53,169.00 L833.93,168.71 L834.34,168.43 L834.75,168.15 L835.16,167.87 L835.58,167.60 L836.00,167.34 L836.42,167.08 L836.85,166.82 L837.28,166.56 L837.71,166.30 L838.14,166.05 L838.57,165.79 L839.00,165.54 L839.43,165.28 L839.85,165.02 L840.28,164.75 L840.70,164.49 L841.13,164.22 L841.55,163.95 L841.97,163.68 L842.39,163.41 L842.81,163.13 L843.23,162.86 L843.64,162.59 L844.06,162.32 L844.48,162.05 L844.91,161.78 L845.33,161.51 L845.75,161.25 L846.18,160.99 L846.61,160.73 L847.04,160.47 L847.47,160.22 L847.90,159.97 L848.34,159.73 L848.77,159.48 L849.21,159.24 L849.65,159.00 L850.09,158.77 L850.54,158.54 L850.98,158.30 L851.42,158.08 L851.87,157.85 L852.32,157.63 L852.77,157.41 L853.22,157.19 L853.67,156.97 L854.12,156.76 L854.57,156.55 L855.03,156.35 L855.49,156.14 L855.94,155.94 L856.40,155.75 L856.86,155.55 L857.33,155.36 L857.79,155.18 L858.26,155.00 L858.72,154.82 L859.19,154.64 L859.66,154.47 L860.13,154.31 L860.60,154.14 L861.08,153.98 L861.55,153.82 L862.03,153.67 L862.50,153.52 L862.98,153.38 L863.46,153.23 L863.94,153.09 L864.42,152.96 L864.90,152.83 L865.39,152.69 L865.87,152.57 L866.35,152.44 L866.84,152.31 L867.32,152.19 L867.81,152.06 L868.29,151.94 L868.77,151.81 L869.26,151.69 L869.74,151.56 L870.23,151.44 L870.71,151.31 L871.20,151.19 L871.68,151.06 L872.17,150.94 L872.65,150.83 L873.14,150.71 L873.63,150.61 L874.11,150.50 L874.60,150.41 L875.09,150.31 L875.58,150.23 L876.08,150.15 L876.57,150.07 L877.06,150.00 L877.56,149.93 L878.05,149.87 L878.55,149.81 L879.04,149.76 L879.54,149.70 L880.04,149.65 L880.54,149.59 L881.03,149.54 L881.53,149.49 L882.03,149.43 L882.53,149.38 L883.02,149.32 L883.52,149.27 L884.02,149.21 L884.51,149.15 L885.01,149.10 L885.51,149.04 L886.00,148.97 L886.50,148.91 L887.00,148.85 L887.49,148.79 L887.99,148.73 L888.49,148.66 L888.98,148.60 L889.48,148.53 L889.97,148.47 L890.47,148.40 L890.96,148.34 L891.46,148.27 L891.96,148.21 L892.45,148.14 L892.95,148.07 L893.44,148.01 L893.94,147.94 L894.43,147.87 L894.93,147.80 L895.42,147.74 L895.92,147.67 L896.41,147.60 L896.91,147.53 L897.40,147.46 L897.90,147.39 L898.40,147.32 L898.89,147.25 L899.39,147.18 L899.88,147.11 L900.37,147.03 L900.87,146.96 L901.36,146.89 L901.86,146.81 L902.35,146.74 L902.85,146.66 L903.34,146.59 L903.84,146.51 L904.33,146.44 L904.83,146.36 L905.32,146.29 L905.82,146.22 L906.31,146.15 L906.81,146.08 L907.30,146.01 L907.80,145.94 L908.29,145.87 L908.79,145.81 L909.28,145.75 L909.78,145.68 L910.27,145.62 L910.77,145.57 L911.27,145.51 L911.76,145.45 L912.26,145.40 L912.76,145.34 L913.25,145.29 L913.75,145.24 L914.25,145.19 L914.75,145.14 L915.24,145.09 L915.74,145.04 L916.24,145.00 L916.74,144.95 L917.24,144.91 L917.73,144.86 L918.23,144.82 L918.73,144.77 L919.23,144.73 L919.73,144.69 L920.23,144.65 L920.72,144.61 L921.22,144.57 L921.72,144.53 L922.22,144.49 L922.72,144.45 L923.22,144.41 L923.71,144.37 L924.21,144.33 L924.71,144.30 L925.21,144.26 L925.71,144.22 L926.21,144.19 L926.71,144.15 L927.20,144.11 L927.70,144.08 L928.20,144.04 L928.70,144.01 L929.20,143.97 L929.70,143.94 L930.20,143.90 L930.70,143.87 L931.19,143.84 L931.69,143.80 L932.19,143.77 L932.69,143.74 L933.19,143.71 L933.69,143.67 L934.19,143.64 L934.69,143.61 L935.19,143.58 L935.69,143.55 L936.18,143.52 L936.68,143.49 L937.18,143.46 L937.68,143.44 L938.18,143.41 L938.67,143.38 L939.16,143.35 L939.65,143.33 L940.13,143.30 L940.61,143.28 L941.09,143.25 L941.56,143.23 L942.04,143.20 L942.52,143.18 L943.02,143.16 L943.53,143.13 L944.08,143.11 L944.30,143.10" stroke="#000" stroke-width="1.65" fill="none" stroke-linejoin="round"/>
<path d="M772.60,312.00 L772.66,311.43 L772.71,310.89 L772.76,310.38 L772.81,309.89 L772.86,309.41 L772.91,308.93 L772.96,308.45 L773.01,307.97 L773.07,307.49 L773.12,307.01 L773.17,306.52 L773.22,306.02 L773.28,305.53 L773.33,305.04 L773.39,304.54 L773.44,304.04 L773.50,303.55 L773.55,303.05 L773.61,302.55 L773.66,302.06 L773.72,301.56 L773.78,301.06 L773.84,300.57 L773.89,300.07 L773.95,299.57 L774.01,299.08 L774.07,298.58 L774.13,298.08 L774.19,297.59 L774.25,297.09 L774.31,296.59 L774.37,296.10 L774.43,295.60 L774.49,295.11 L774.55,294.61 L774.61,294.11 L774.67,293.62 L774.74,293.12 L774.80,292.62 L774.86,292.13 L774.92,291.63 L774.99,291.14 L775.05,290.64 L775.11,290.14 L775.18,289.65 L775.24,289.15 L775.31,288.65 L775.37,288.16 L775.44,287.66 L775.50,287.17 L775.57,286.67 L775.63,286.17 L775.70,285.68 L775.77,285.18 L775.84,284.69 L775.90,284.19 L775.97,283.70 L776.04,283.20 L776.11,282.71 L776.18,282.21 L776.25,281.72 L776.32,281.22 L776.40,280.73 L776.47,280.23 L776.54,279.74 L776.62,279.24 L776.69,278.75 L776.77,278.25 L776.84,277.76 L776.92,277.27 L776.99,276.77 L777.07,276.28 L777.15,275.78 L777.23,275.29 L777.31,274.80 L777.39,274.31 L777.48,273.81 L777.56,273.32 L777.64,272.83 L777.73,272.34 L777.81,271.84 L777.90,271.35 L777.99,270.86 L778.08,270.37 L778.17,269.88 L778.26,269.39 L778.36,268.89 L778.45,268.40 L778.55,267.91 L778.64,267.42 L778.74,266.93 L778.84,266.44 L778.94,265.95 L779.04,265.46 L779.14,264.97 L779.24,264.48 L779.35,263.99 L779.45,263.50 L779.55,263.01 L779.66,262.52 L779.77,262.03 L779.87,261.55 L779.98,261.06 L780.09,260.57 L780.20,260.08 L780.31,259.59 L780.42,259.11 L780.53,258.62 L780.64,258.13 L780.76,257.64 L780.87,257.16 L780.98,256.67 L781.10,256.18 L781.21,255.69 L781.33,255.21 L781.44,254.72 L781.56,254.23 L781.68,253.75 L781.80,253.26 L781.92,252.78 L782.04,252.29 L782.16,251.81 L782.29,251.32 L782.42,250.84 L782.55,250.35 L782.68,249.87 L782.82,249.39 L782.96,248.91 L783.11,248.43 L783.26,247.96 L783.41,247.48 L783.57,247.01 L783.73,246.54 L783.91,246.07 L784.08,245.60 L784.27,245.14 L784.46,244.67 L784.66,244.22 L784.86,243.76 L785.08,243.31 L785.30,242.87 L785.53,242.43 L785.78,241.99 L786.03,241.56 L786.30,241.14 L786.57,240.73 L786.86,240.32 L787.15,239.92 L787.46,239.53 L787.78,239.16 L788.10,238.79 L788.44,238.43 L788.79,238.08 L789.15,237.75 L789.52,237.43 L789.90,237.11 L790.29,236.81 L790.69,236.52 L791.10,236.23 L791.52,235.96 L791.94,235.70 L792.37,235.44 L792.81,235.19 L793.25,234.96 L793.69,234.73 L794.14,234.50 L794.60,234.29 L795.05,234.08 L795.51,233.88 L795.97,233.69 L796.44,233.50 L796.90,233.31 L797.37,233.13 L797.84,232.96 L798.31,232.78 L798.78,232.61 L799.25,232.43 L799.71,232.26 L800.18,232.08 L800.65,231.90 L801.12,231.72 L801.58,231.54 L802.05,231.35 L802.51,231.17 L802.98,230.98 L803.44,230.79 L803.90,230.59 L804.36,230.40 L804.83,230.20 L805.29,230.01 L805.75,229.81 L806.21,229.62 L806.67,229.42 L807.13,229.23 L807.60,229.04 L808.06,228.85 L808.52,228.66 L808.98,228.48 L809.45,228.29 L809.92,228.11 L810.38,227.94 L810.85,227.76 L811.32,227.59 L811.79,227.43 L812.26,227.26 L812.73,227.10 L813.20,226.95 L813.68,226.79 L814.15,226.64 L814.63,226.49 L815.11,226.34 L815.58,226.20 L816.06,226.06 L816.54,225.92 L817.02,225.78 L817.51,225.64 L817.99,225.51 L818.47,225.37 L818.95,225.24 L819.44,225.11 L819.92,224.99 L820.41,224.86 L820.89,224.74 L821.38,224.62 L821.86,224.50 L822.35,224.38 L822.84,224.26 L823.32,224.15 L823.81,224.03 L824.30,223.92 L824.79,223.81 L825.27,223.71 L825.76,223.60 L826.25,223.50 L826.74,223.39 L827.23,223.29 L827.72,223.19 L828.21,223.10 L828.70,223.00 L829.19,222.90 L829.68,222.81 L830.17,222.72 L830.66,222.63 L831.16,222.54 L831.65,222.45 L832.14,222.36 L832.63,222.27 L833.13,222.19 L833.62,222.10 L834.11,222.02 L834.61,221.93 L835.10,221.85 L835.59,221.77 L836.09,221.69 L836.58,221.61 L837.07,221.53 L837.57,221.45 L838.06,221.37 L838.55,221.29 L839.05,221.22 L839.54,221.14 L840.04,221.07 L840.53,220.99 L841.03,220.92 L841.52,220.85 L842.02,220.78 L842.51,220.71 L843.01,220.64 L843.50,220.57 L844.00,220.50 L844.49,220.43 L844.99,220.36 L845.48,220.29 L845.98,220.22 L846.47,220.15 L846.97,220.08 L847.46,220.01 L847.96,219.94 L848.45,219.87 L848.95,219.80 L849.44,219.73 L849.94,219.66 L850.43,219.59 L850.93,219.52 L851.42,219.44 L851.92,219.37 L852.41,219.30 L852.91,219.23 L853.40,219.15 L853.90,219.08 L854.39,219.00 L854.89,218.93 L855.38,218.85 L855.87,218.78 L856.37,218.71 L856.86,218.63 L857.36,218.56 L857.85,218.48 L858.35,218.41 L858.84,218.33 L859.33,218.26 L859.83,218.18 L860.32,218.11 L860.82,218.03 L861.31,217.96 L861.81,217.88 L862.30,217.81 L862.80,217.73 L863.29,217.66 L863.78,217.58 L864.28,217.51 L864.77,217.44 L865.27,217.36 L865.76,217.29 L866.26,217.21 L866.75,217.14 L867.25,217.07 L867.74,216.99 L868.23,216.92 L868.73,216.85 L869.22,216.77 L869.72,216.70 L870.21,216.62 L870.71,216.55 L871.20,216.47 L871.70,216.40 L872.19,216.32 L872.68,216.25 L873.18,216.17 L873.67,216.09 L874.17,216.02 L874.66,215.94 L875.15,215.86 L875.65,215.78 L876.14,215.70 L876.63,215.62 L877.13,215.54 L877.62,215.45 L878.11,215.37 L878.61,215.29 L879.10,215.20 L879.59,215.12 L880.09,215.04 L880.58,214.96 L881.07,214.88 L881.57,214.80 L882.06,214.73 L882.56,214.65 L883.05,214.58 L883.54,214.51 L884.04,214.44 L884.53,214.37 L885.03,214.31 L885.53,214.24 L886.02,214.18 L886.52,214.12 L887.01,214.06 L887.51,214.00 L888.01,213.94 L888.50,213.89 L889.00,213.83 L889.50,213.78 L890.00,213.72 L890.49,213.67 L890.99,213.61 L891.49,213.56 L891.98,213.51 L892.48,213.46 L892.98,213.40 L893.48,213.35 L893.97,213.30 L894.47,213.24 L894.97,213.19 L895.47,213.13 L895.96,213.08 L896.46,213.02 L896.96,212.96 L897.45,212.90 L897.95,212.84 L898.44,212.78 L898.94,212.72 L899.44,212.66 L899.93,212.59 L900.43,212.52 L900.92,212.46 L901.42,212.39 L901.91,212.32 L902.41,212.25 L902.90,212.17 L903.40,212.10 L903.89,212.02 L904.38,211.95 L904.88,211.87 L905.37,211.79 L905.87,211.72 L906.36,211.64 L906.85,211.56 L907.35,211.48 L907.84,211.40 L908.33,211.32 L908.83,211.24 L909.32,211.16 L909.82,211.07 L910.31,210.99 L910.80,210.91 L911.30,210.83 L911.79,210.75 L912.28,210.67 L912.78,210.59 L913.27,210.51 L913.76,210.43 L914.26,210.35 L914.75,210.28 L915.25,210.20 L915.74,210.12 L916.23,210.04 L916.73,209.96 L917.22,209.89 L917.72,209.81 L918.21,209.73 L918.70,209.66 L919.20,209.58 L919.69,209.50 L920.19,209.43 L920.68,209.35 L921.17,209.27 L921.67,209.20 L922.16,209.12 L922.66,209.04 L923.15,208.97 L923.65,208.89 L924.14,208.81 L924.63,208.74 L925.13,208.66 L925.62,208.58 L926.12,208.51 L926.61,208.43 L927.10,208.36 L927.60,208.28 L928.09,208.20 L928.59,208.13 L929.08,208.05 L929.58,207.98 L930.07,207.90 L930.57,207.83 L931.06,207.76 L931.55,207.68 L932.05,207.61 L932.54,207.53 L933.04,207.46 L933.53,207.39 L934.03,207.31 L934.52,207.24 L935.02,207.17 L935.51,207.10 L936.01,207.03 L936.50,206.95 L937.00,206.88 L937.49,206.81 L937.99,206.74 L938.48,206.67 L938.98,206.60 L939.47,206.53 L939.97,206.46 L940.46,206.39 L940.96,206.33 L941.45,206.26 L941.95,206.19 L942.44,206.12 L942.94,206.05 L943.43,205.98 L943.93,205.91 L944.42,205.85 L944.92,205.78 L945.41,205.71 L945.91,205.64 L946.40,205.57 L946.90,205.51 L947.40,205.44 L947.89,205.37 L948.39,205.31 L948.88,205.24 L949.38,205.17 L949.87,205.11 L950.37,205.04 L950.87,204.97 L951.36,204.91 L951.86,204.84 L952.35,204.78 L952.85,204.71 L953.34,204.65 L953.84,204.59 L954.34,204.52 L954.83,204.46 L955.33,204.40 L955.83,204.33 L956.32,204.27 L956.82,204.21 L957.31,204.15 L957.81,204.09 L958.31,204.03 L958.80,203.97 L959.30,203.91 L959.80,203.85 L960.29,203.79 L960.79,203.73 L961.29,203.68 L961.78,203.62 L962.28,203.56 L962.78,203.51 L963.27,203.46 L963.77,203.40 L964.27,203.35 L964.76,203.30 L965.26,203.24 L965.76,203.19 L966.26,203.14 L966.75,203.09 L967.25,203.04 L967.75,202.99 L968.24,202.95 L968.74,202.90 L969.24,202.85 L969.73,202.81 L970.22,202.76 L970.71,202.72 L971.20,202.67 L971.68,202.63 L972.16,202.59 L972.64,202.55 L973.11,202.51 L973.59,202.46 L974.09,202.42 L974.60,202.38 L975.14,202.34 L975.60,202.30" stroke="#000" stroke-width="1.65" fill="none" stroke-linejoin="round"/>
<path d="M772.60,312.00 L772.71,311.43 L772.82,310.90 L772.92,310.40 L773.02,309.92 L773.11,309.44 L773.21,308.97 L773.31,308.50 L773.41,308.03 L773.52,307.56 L773.62,307.08 L773.72,306.60 L773.83,306.12 L773.94,305.63 L774.05,305.14 L774.16,304.66 L774.27,304.17 L774.38,303.68 L774.49,303.20 L774.61,302.71 L774.72,302.22 L774.84,301.74 L774.95,301.25 L775.07,300.76 L775.19,300.28 L775.31,299.79 L775.43,299.31 L775.55,298.82 L775.67,298.34 L775.79,297.85 L775.92,297.37 L776.04,296.89 L776.17,296.40 L776.29,295.92 L776.42,295.44 L776.55,294.95 L776.68,294.47 L776.81,293.99 L776.94,293.50 L777.08,293.02 L777.21,292.54 L777.35,292.06 L777.48,291.58 L777.62,291.10 L777.76,290.62 L777.90,290.13 L778.04,289.65 L778.18,289.17 L778.33,288.70 L778.47,288.22 L778.62,287.74 L778.77,287.26 L778.92,286.78 L779.07,286.31 L779.22,285.83 L779.37,285.36 L779.53,284.88 L779.69,284.41 L779.84,283.93 L780.00,283.46 L780.17,282.99 L780.33,282.52 L780.50,282.05 L780.66,281.58 L780.83,281.11 L781.01,280.64 L781.18,280.17 L781.36,279.70 L781.53,279.23 L781.71,278.77 L781.89,278.30 L782.08,277.84 L782.26,277.37 L782.45,276.91 L782.63,276.44 L782.82,275.98 L783.01,275.51 L783.20,275.05 L783.39,274.59 L783.58,274.13 L783.77,273.66 L783.97,273.20 L784.16,272.74 L784.35,272.28 L784.55,271.82 L784.74,271.36 L784.94,270.90 L785.13,270.44 L785.33,269.98 L785.53,269.52 L785.73,269.06 L785.92,268.60 L786.12,268.14 L786.32,267.68 L786.53,267.23 L786.73,266.77 L786.93,266.31 L787.13,265.85 L787.34,265.40 L787.54,264.94 L787.75,264.49 L787.95,264.03 L788.16,263.57 L788.36,263.12 L788.57,262.66 L788.78,262.21 L788.99,261.75 L789.19,261.30 L789.40,260.84 L789.61,260.39 L789.82,259.93 L790.03,259.48 L790.24,259.03 L790.45,258.57 L790.66,258.12 L790.86,257.66 L791.07,257.21 L791.28,256.76 L791.50,256.30 L791.71,255.85 L791.92,255.40 L792.13,254.94 L792.34,254.49 L792.55,254.04 L792.77,253.58 L792.98,253.13 L793.19,252.68 L793.41,252.23 L793.62,251.78 L793.84,251.33 L794.05,250.87 L794.27,250.42 L794.49,249.97 L794.71,249.52 L794.92,249.07 L795.14,248.62 L795.36,248.17 L795.58,247.72 L795.80,247.27 L796.03,246.82 L796.25,246.38 L796.48,245.93 L796.71,245.49 L796.94,245.05 L797.18,244.61 L797.43,244.17 L797.68,243.74 L797.94,243.32 L798.21,242.90 L798.49,242.49 L798.77,242.08 L799.07,241.69 L799.38,241.31 L799.71,240.94 L800.05,240.59 L800.40,240.25 L800.76,239.93 L801.14,239.63 L801.54,239.34 L801.94,239.07 L802.36,238.81 L802.79,238.58 L803.23,238.35 L803.68,238.15 L804.13,237.95 L804.59,237.78 L805.05,237.61 L805.52,237.45 L806.00,237.31 L806.48,237.17 L806.96,237.04 L807.44,236.92 L807.93,236.81 L808.42,236.70 L808.91,236.59 L809.40,236.49 L809.89,236.40 L810.39,236.30 L810.88,236.21 L811.38,236.13 L811.87,236.04 L812.37,235.96 L812.86,235.87 L813.36,235.79 L813.85,235.71 L814.35,235.64 L814.84,235.56 L815.34,235.49 L815.83,235.41 L816.33,235.34 L816.82,235.27 L817.32,235.20 L817.82,235.14 L818.31,235.07 L818.81,235.01 L819.30,234.94 L819.80,234.88 L820.30,234.82 L820.79,234.76 L821.29,234.71 L821.79,234.65 L822.29,234.60 L822.78,234.55 L823.28,234.50 L823.78,234.45 L824.28,234.40 L824.77,234.36 L825.27,234.31 L825.77,234.27 L826.27,234.23 L826.76,234.19 L827.26,234.15 L827.76,234.11 L828.26,234.07 L828.76,234.03 L829.26,234.00 L829.75,233.96 L830.25,233.93 L830.75,233.90 L831.25,233.86 L831.75,233.83 L832.25,233.80 L832.75,233.77 L833.25,233.74 L833.74,233.71 L834.24,233.68 L834.74,233.65 L835.24,233.62 L835.74,233.59 L836.24,233.57 L836.74,233.54 L837.24,233.51 L837.74,233.48 L838.24,233.46 L838.74,233.43 L839.24,233.40 L839.74,233.38 L840.24,233.35 L840.74,233.33 L841.24,233.30 L841.74,233.27 L842.24,233.25 L842.74,233.22 L843.23,233.20 L843.73,233.17 L844.23,233.14 L844.73,233.12 L845.23,233.09 L845.73,233.06 L846.23,233.04 L846.73,233.01 L847.23,232.98 L847.73,232.95 L848.23,232.92 L848.73,232.90 L849.23,232.87 L849.73,232.84 L850.23,232.81 L850.73,232.78 L851.23,232.75 L851.72,232.72 L852.22,232.69 L852.72,232.66 L853.22,232.63 L853.72,232.60 L854.22,232.57 L854.72,232.54 L855.22,232.51 L855.72,232.48 L856.22,232.45 L856.72,232.41 L857.21,232.38 L857.71,232.35 L858.21,232.32 L858.71,232.29 L859.21,232.26 L859.71,232.23 L860.21,232.20 L860.71,232.17 L861.21,232.14 L861.71,232.11 L862.20,232.08 L862.70,232.05 L863.20,232.02 L863.70,231.98 L864.20,231.95 L864.70,231.92 L865.20,231.89 L865.70,231.86 L866.20,231.83 L866.70,231.79 L867.20,231.76 L867.69,231.73 L868.19,231.70 L868.69,231.67 L869.19,231.63 L869.69,231.60 L870.19,231.57 L870.69,231.53 L871.19,231.50 L871.69,231.47 L872.18,231.43 L872.68,231.40 L873.18,231.36 L873.68,231.33 L874.18,231.29 L874.68,231.26 L875.18,231.22 L875.68,231.19 L876.17,231.15 L876.67,231.11 L877.17,231.07 L877.67,231.04 L878.17,231.00 L878.67,230.96 L879.17,230.92 L879.66,230.88 L880.16,230.84 L880.66,230.81 L881.16,230.77 L881.66,230.73 L882.16,230.70 L882.66,230.66 L883.15,230.63 L883.65,230.59 L884.15,230.56 L884.65,230.53 L885.15,230.50 L885.65,230.47 L886.15,230.44 L886.65,230.41 L887.15,230.38 L887.65,230.35 L888.14,230.32 L888.64,230.29 L889.14,230.26 L889.64,230.24 L890.14,230.21 L890.64,230.18 L891.14,230.16 L891.64,230.13 L892.14,230.10 L892.64,230.08 L893.14,230.06 L893.64,230.03 L894.14,230.01 L894.64,229.99 L895.14,229.97 L895.64,229.95 L896.14,229.93 L896.64,229.91 L897.14,229.89 L897.64,229.88 L898.14,229.86 L898.63,229.85 L899.13,229.83 L899.63,229.82 L900.13,229.80 L900.63,229.79 L901.13,229.78 L901.63,229.77 L902.13,229.76 L902.63,229.75 L903.13,229.74 L903.63,229.73 L904.13,229.72 L904.63,229.71 L905.13,229.70 L905.63,229.69 L906.13,229.68 L906.63,229.67 L907.13,229.66 L907.63,229.65 L908.13,229.64 L908.63,229.63 L909.13,229.62 L909.63,229.61 L910.13,229.61 L910.63,229.60 L911.13,229.59 L911.63,229.58 L912.13,229.57 L912.63,229.57 L913.13,229.56 L913.63,229.55 L914.13,229.55 L914.63,229.54 L915.13,229.53 L915.63,229.52 L916.13,229.52 L916.63,229.51 L917.13,229.51 L917.63,229.50 L918.13,229.49 L918.63,229.49 L919.13,229.48 L919.63,229.48 L920.13,229.47 L920.63,229.47 L921.13,229.46 L921.63,229.46 L922.13,229.45 L922.63,229.45 L923.13,229.44 L923.63,229.44 L924.13,229.44 L924.63,229.43 L925.13,229.43 L925.63,229.43 L926.13,229.42 L926.63,229.42 L927.13,229.42 L927.63,229.41 L928.13,229.41 L928.63,229.41 L929.13,229.41 L929.63,229.40 L930.13,229.40 L930.63,229.40 L931.13,229.40 L931.63,229.39 L932.13,229.39 L932.63,229.39 L933.13,229.39 L933.63,229.39 L934.13,229.39 L934.63,229.38 L935.13,229.38 L935.63,229.38 L936.13,229.38 L936.63,229.38 L937.13,229.37 L937.63,229.37 L938.13,229.37 L938.63,229.37 L939.13,229.37 L939.63,229.37 L940.13,229.37 L940.63,229.36 L941.13,229.36 L941.63,229.36 L942.13,229.36 L942.63,229.36 L943.13,229.36 L943.63,229.35 L944.13,229.35 L944.63,229.35 L945.13,229.35 L945.63,229.35 L946.13,229.35 L946.63,229.35 L947.13,229.34 L947.63,229.34 L948.13,229.34 L948.63,229.34 L949.13,229.34 L949.63,229.34 L950.13,229.34 L950.63,229.34 L951.13,229.33 L951.63,229.33 L952.13,229.33 L952.63,229.33 L953.13,229.33 L953.63,229.33 L954.13,229.33 L954.63,229.33 L955.13,229.33 L955.63,229.32 L956.13,229.32 L956.63,229.32 L957.13,229.32 L957.63,229.32 L958.13,229.32 L958.63,229.32 L959.13,229.32 L959.63,229.32 L960.13,229.32 L960.63,229.32 L961.13,229.31 L961.63,229.31 L962.13,229.31 L962.63,229.31 L963.13,229.31 L963.63,229.31 L964.13,229.31 L964.63,229.31 L965.13,229.31 L965.63,229.31 L966.13,229.31 L966.63,229.31 L967.13,229.31 L967.63,229.31 L968.13,229.31 L968.63,229.31 L969.13,229.30 L969.63,229.30 L970.13,229.30 L970.63,229.30 L971.13,229.30 L971.63,229.30 L972.13,229.30 L972.63,229.30 L973.12,229.30 L973.61,229.30 L974.10,229.30 L974.59,229.30 L975.07,229.30 L975.55,229.30 L976.02,229.30 L976.50,229.30 L976.98,229.30 L977.47,229.30 L977.99,229.30 L978.54,229.30 L978.80,229.30" stroke="#000" stroke-width="1.65" fill="none" stroke-linejoin="round"/>
<path d="M883.5,77.6 L887.1,81.2 L883.5,84.8 L879.9,81.2 Z" fill="#fff" stroke="#000" stroke-width="1.3"/>
<circle cx="883.4" cy="149.3" r="3.6" fill="#fff" stroke="#000" stroke-width="1.3"/>
<path d="M883.4,210.9 L887,214.5 L883.4,218.1 L879.8,214.5 Z" fill="#fff" stroke="#000" stroke-width="1.3"/>
<circle cx="883.4" cy="230.6" r="3.6" fill="#fff" stroke="#000" stroke-width="1.3"/>
<path d="M581.4,80 L595.3,99.6" stroke="#000" stroke-width="1.45"/>
<path d="M651.4,137.7 L664.9,156.2" stroke="#000" stroke-width="1.45"/>
<path d="M698.2,170 L711.2,188.4" stroke="#000" stroke-width="1.45"/>
<path d="M665.3,222.3 L679.7,241.7" stroke="#000" stroke-width="1.45"/>
<path d="M914,79 L928.6,99.5 M927.4,120.6 L910.1,145.2 M920.9,130 L910.1,145.2" stroke="#000" stroke-width="1.45"/>
<path d="M927.8,190 L905.7,209.5 M936,193.1 L914.6,228.4" stroke="#000" stroke-width="1.45"/>
<path d="M883.3,290.9 H901.5 M883.3,312.2 H901.5" stroke="#000" stroke-width="1.45"/>
<circle cx="905.8" cy="290.9" r="4.3" fill="#fff" stroke="#000" stroke-width="1.3"/>
<path d="M905.8,307.8 L910.2,312.2 L905.8,316.6 L901.4,312.2 Z" fill="#fff" stroke="#000" stroke-width="1.3"/>
<text x="41.00" y="346.50" font-size="15.6">0</text>
<text x="32.00" y="284.64" font-size="15.6">20</text>
<text x="32.00" y="222.78" font-size="15.6">40</text>
<text x="32.00" y="160.92" font-size="15.6">60</text>
<text x="32.00" y="99.06" font-size="15.6">80</text>
<text x="24.00" y="37.20" font-size="15.6">100</text>
<text x="376.00" y="347.10" font-size="15.6">-270</text>
<text x="376.00" y="292.92" font-size="15.6">-180</text>
<text x="376.00" y="238.73" font-size="15.6">-90</text>
<text x="376.00" y="184.55" font-size="15.6">0</text>
<text x="376.00" y="130.37" font-size="15.6">90</text>
<text x="376.00" y="76.18" font-size="15.6">180</text>
<text x="376.00" y="22.00" font-size="15.6">270</text>
<text x="49.10" y="368.60" font-size="15.6">300</text>
<text x="116.08" y="368.60" font-size="15.6">500</text>
<text x="183.06" y="368.60" font-size="15.6">700</text>
<text x="250.03" y="368.60" font-size="15.6">900</text>
<text x="313.01" y="368.60" font-size="15.6">1100</text>
<text x="152.60" y="387.00" font-size="15" font-weight="bold" textLength="117.77" lengthAdjust="spacingAndGlyphs">temperature&#160;&#160;/&#160;&#160;K</text>
<text transform="translate(20.00,216.19) rotate(-90)" font-size="15" font-weight="bold" textLength="71.63" lengthAdjust="spacingAndGlyphs">mass&#160;&#160;/&#160;&#160;%</text>
<text transform="translate(434.30,102.76) rotate(90)" font-size="15" font-weight="bold" textLength="37.97" lengthAdjust="spacingAndGlyphs">DTG:</text>
<text transform="translate(414.00,58.20) rotate(90)" font-size="15" font-weight="bold">dmass/dt&#160;&#160;/&#160;&#160;%/s</text>
<text transform="translate(434.20,255.69) rotate(90)" font-size="15" font-weight="bold" textLength="38.52" lengthAdjust="spacingAndGlyphs">DTA:</text>
<text transform="translate(414.00,210.10) rotate(90)" font-size="15" font-weight="bold">voltage&#160;&#160;/&#160;&#160;a.u.</text>
<text x="117.80" y="247.30" font-size="17.5" font-weight="bold">I</text>
<text x="137.00" y="247.30" font-size="17.5" font-weight="bold" textLength="50.78" lengthAdjust="spacingAndGlyphs">II/III/IV</text>
<text x="231.10" y="247.30" font-size="17.5" font-weight="bold">V</text>
<text x="267.80" y="247.30" font-size="17.5" font-weight="bold" textLength="17.98" lengthAdjust="spacingAndGlyphs">VI</text>
<text x="304.70" y="247.30" font-size="17.5" font-weight="bold" textLength="21.94" lengthAdjust="spacingAndGlyphs">VII</text>
<text transform="translate(342.00,253.33) rotate(90)" font-size="15" font-weight="bold" textLength="27.69" lengthAdjust="spacingAndGlyphs">exo</text>
<text x="767.15" y="33.40" font-size="16.5" textLength="9.65" lengthAdjust="spacingAndGlyphs">0</text>
<text x="813.60" y="33.40" font-size="16.5" textLength="28.91" lengthAdjust="spacingAndGlyphs">500</text>
<text x="864.55" y="33.40" font-size="16.5" textLength="38.40" lengthAdjust="spacingAndGlyphs">1000</text>
<text x="921.25" y="33.40" font-size="16.5" textLength="38.40" lengthAdjust="spacingAndGlyphs">1500</text>
<text x="975.85" y="33.40" font-size="16.5" textLength="38.50" lengthAdjust="spacingAndGlyphs">2000</text>
<text x="542.75" y="360.00" font-size="16.5" textLength="9.65" lengthAdjust="spacingAndGlyphs">0</text>
<text x="588.94" y="360.00" font-size="16.5" textLength="29.12" lengthAdjust="spacingAndGlyphs">500</text>
<text x="640.53" y="360.00" font-size="16.5" textLength="39.13" lengthAdjust="spacingAndGlyphs">1000</text>
<text x="696.35" y="360.00" font-size="16.5" textLength="38.71" lengthAdjust="spacingAndGlyphs">1500</text>
<text x="752.21" y="360.00" font-size="16.5" textLength="39.97" lengthAdjust="spacingAndGlyphs">2000</text>
<text x="505.60" y="335.30" font-size="16.5">250</text>
<text x="505.60" y="248.63" font-size="16.5">500</text>
<text x="505.60" y="161.97" font-size="16.5">750</text>
<text x="496.60" y="75.30" font-size="16.5">1000</text>
<text x="740.00" y="385.00" font-size="16" font-weight="bold" textLength="64.74" lengthAdjust="spacingAndGlyphs">time&#160;&#160;/&#160;&#160;s</text>
<text transform="translate(490.00,253.70) rotate(-90)" font-size="16" font-weight="bold" textLength="131.38" lengthAdjust="spacingAndGlyphs">temperature&#160;&#160;/&#160;&#160;K</text>
<text x="555.47" y="75.70" font-size="16.5" textLength="70.99" lengthAdjust="spacingAndGlyphs">d = 0 mm</text>
<text x="616.78" y="128.20" font-size="16.5" textLength="70.68" lengthAdjust="spacingAndGlyphs">d = 3 mm</text>
<text x="695.88" y="199.30" font-size="16.5" textLength="70.78" lengthAdjust="spacingAndGlyphs">d = 6 mm</text>
<text x="683.29" y="258.00" font-size="16.5" textLength="83.82" lengthAdjust="spacingAndGlyphs">d = 1.5 mm</text>
<text x="931.88" y="116.60" font-size="16.5" textLength="70.68" lengthAdjust="spacingAndGlyphs">d = 0 mm</text>
<text x="929.88" y="183.10" font-size="16.5" textLength="70.58" lengthAdjust="spacingAndGlyphs">d = 1 mm</text>
<text x="555.57" y="314.60" font-size="16.5" textLength="67.37" lengthAdjust="spacingAndGlyphs">60 kW m</text>
<text x="621.93" y="305.60" font-size="10.5" textLength="10.98" lengthAdjust="spacingAndGlyphs">-2</text>
<text x="914.88" y="295.50" font-size="13.2" textLength="58.28" lengthAdjust="spacingAndGlyphs">30 kW m</text>
<text x="970.97" y="290.10" font-size="8.5" textLength="10.08" lengthAdjust="spacingAndGlyphs">-2</text>
<text x="914.88" y="316.80" font-size="13.2" textLength="58.28" lengthAdjust="spacingAndGlyphs">60 kW m</text>
<text x="970.97" y="311.40" font-size="8.5" textLength="10.08" lengthAdjust="spacingAndGlyphs">-2</text>
</svg></body></html>
